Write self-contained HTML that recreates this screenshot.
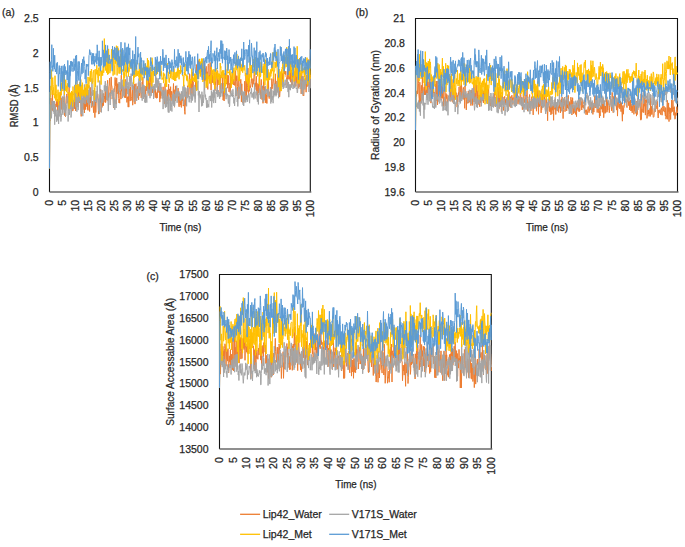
<!DOCTYPE html>
<html><head><meta charset="utf-8"><style>
html,body{margin:0;padding:0;background:#fff;}
svg{display:block;}
text{font-family:"Liberation Sans", sans-serif;fill:#262626;font-size:10.5px;stroke:#262626;stroke-width:0.25px;}
</style></head><body>
<svg width="685" height="547" viewBox="0 0 685 547">
<rect width="685" height="547" fill="#fff"/>
<path d="M49.5 192.0V18.5H310.3V192.0" fill="none" stroke="#111" stroke-width="1.1"/>
<path d="M49.5 192.0H311.3" stroke="#6a6a6a" stroke-width="1.6"/>
<polyline fill="none" stroke="#ED7D31" stroke-width="1.0" stroke-linejoin="round" points="49.5,168.4 49.8,104.4 50.2,120.7 50.5,117.7 50.8,98.0 51.1,100.8 51.5,103.6 51.8,110.2 52.1,98.9 52.4,90.5 52.8,110.7 53.1,101.5 53.4,106.2 53.7,101.2 54.1,104.5 54.4,104.3 54.7,109.2 55.0,103.9 55.4,109.4 55.7,106.6 56.0,105.7 56.4,101.2 56.7,106.8 57.0,103.1 57.3,99.1 57.7,111.0 58.0,111.0 58.3,103.6 58.6,106.4 59.0,106.6 59.3,101.2 59.6,113.1 59.9,102.1 60.3,92.1 60.6,95.9 60.9,109.2 61.3,98.1 61.6,109.4 61.9,104.3 62.2,101.6 62.6,112.6 62.9,96.7 63.2,105.9 63.5,101.5 63.9,102.3 64.2,96.8 64.5,97.4 64.8,115.8 65.2,104.1 65.5,116.7 65.8,104.6 66.1,98.4 66.5,95.5 66.8,93.9 67.1,103.3 67.5,100.7 67.8,100.3 68.1,92.5 68.4,92.8 68.8,106.2 69.1,82.0 69.4,102.7 69.7,106.8 70.1,102.2 70.4,100.2 70.7,102.1 71.0,109.2 71.4,93.1 71.7,105.5 72.0,94.6 72.3,92.8 72.7,111.1 73.0,110.5 73.3,108.9 73.7,99.9 74.0,99.4 74.3,98.7 74.6,108.8 75.0,100.4 75.3,94.4 75.6,110.9 75.9,102.8 76.3,102.8 76.6,107.2 76.9,105.4 77.2,90.5 77.6,94.8 77.9,97.4 78.2,107.1 78.6,85.9 78.9,96.7 79.2,102.6 79.5,101.3 79.9,102.9 80.2,83.5 80.5,100.8 80.8,101.8 81.2,116.4 81.5,99.5 81.8,110.5 82.1,111.8 82.5,98.1 82.8,108.0 83.1,95.1 83.4,90.7 83.8,109.6 84.1,100.4 84.4,113.0 84.8,99.2 85.1,93.0 85.4,109.6 85.7,88.0 86.1,102.5 86.4,106.6 86.7,99.5 87.0,93.5 87.4,109.4 87.7,99.2 88.0,110.4 88.3,91.7 88.7,95.8 89.0,102.8 89.3,97.7 89.6,111.5 90.0,100.3 90.3,87.4 90.6,102.9 91.0,91.6 91.3,100.8 91.6,107.5 91.9,104.7 92.3,101.1 92.6,104.9 92.9,106.8 93.2,106.6 93.6,112.7 93.9,102.3 94.2,101.8 94.5,98.8 94.9,117.6 95.2,101.5 95.5,103.4 95.8,112.5 96.2,102.0 96.5,95.8 96.8,98.3 97.2,97.0 97.5,94.4 97.8,94.0 98.1,102.3 98.5,114.1 98.8,106.2 99.1,100.4 99.4,107.2 99.8,99.7 100.1,95.2 100.4,102.3 100.7,89.3 101.1,112.1 101.4,98.6 101.7,105.6 102.1,107.4 102.4,98.8 102.7,105.7 103.0,93.8 103.4,105.6 103.7,93.5 104.0,99.0 104.3,96.1 104.7,97.2 105.0,102.3 105.3,90.0 105.6,102.6 106.0,100.3 106.3,90.8 106.6,88.2 106.9,91.1 107.3,95.1 107.6,80.3 107.9,100.7 108.3,96.5 108.6,97.8 108.9,86.8 109.2,85.1 109.6,78.2 109.9,81.7 110.2,91.3 110.5,95.0 110.9,99.1 111.2,76.9 111.5,85.7 111.8,85.5 112.2,89.7 112.5,93.9 112.8,94.3 113.1,96.7 113.5,107.8 113.8,91.2 114.1,91.8 114.5,89.0 114.8,85.6 115.1,77.5 115.4,85.8 115.8,79.9 116.1,104.0 116.4,94.4 116.7,77.9 117.1,94.0 117.4,89.7 117.7,83.7 118.0,93.3 118.4,83.9 118.7,98.7 119.0,102.9 119.4,99.0 119.7,103.2 120.0,92.7 120.3,94.6 120.7,90.5 121.0,99.1 121.3,75.2 121.6,91.0 122.0,91.1 122.3,87.7 122.6,93.4 122.9,96.6 123.3,93.8 123.6,86.6 123.9,90.0 124.2,88.9 124.6,97.6 124.9,97.7 125.2,79.3 125.6,97.8 125.9,91.3 126.2,88.4 126.5,86.0 126.9,102.4 127.2,97.3 127.5,98.6 127.8,96.7 128.2,107.1 128.5,94.0 128.8,107.1 129.1,89.6 129.5,88.8 129.8,90.9 130.1,101.1 130.4,86.8 130.8,97.8 131.1,100.5 131.4,98.5 131.8,96.8 132.1,91.1 132.4,85.0 132.7,105.2 133.1,96.1 133.4,85.8 133.7,89.3 134.0,87.4 134.4,102.2 134.7,84.1 135.0,104.1 135.3,93.7 135.7,85.1 136.0,83.6 136.3,91.9 136.7,88.8 137.0,96.3 137.3,96.8 137.6,86.4 138.0,92.9 138.3,98.0 138.6,99.7 138.9,90.4 139.3,88.1 139.6,95.7 139.9,93.6 140.2,82.8 140.6,90.4 140.9,91.5 141.2,97.9 141.5,94.7 141.9,91.1 142.2,81.8 142.5,93.9 142.9,77.2 143.2,96.6 143.5,95.2 143.8,87.1 144.2,95.6 144.5,97.0 144.8,91.7 145.1,86.0 145.5,100.1 145.8,89.7 146.1,90.3 146.4,90.8 146.8,79.7 147.1,89.4 147.4,89.4 147.7,87.1 148.1,83.4 148.4,91.1 148.7,79.0 149.1,95.7 149.4,78.1 149.7,92.6 150.0,87.4 150.4,82.2 150.7,71.8 151.0,77.0 151.3,87.4 151.7,77.9 152.0,88.9 152.3,93.0 152.6,87.4 153.0,89.6 153.3,86.8 153.6,93.7 154.0,87.4 154.3,87.0 154.6,90.9 154.9,93.3 155.3,97.7 155.6,89.0 155.9,95.1 156.2,92.6 156.6,98.3 156.9,93.8 157.2,98.0 157.5,91.1 157.9,86.2 158.2,92.6 158.5,86.8 158.8,90.1 159.2,83.3 159.5,89.8 159.8,102.1 160.2,89.9 160.5,95.1 160.8,98.5 161.1,91.6 161.5,94.3 161.8,92.8 162.1,95.9 162.4,92.9 162.8,93.8 163.1,86.8 163.4,97.9 163.7,94.5 164.1,95.1 164.4,103.9 164.7,102.6 165.0,83.4 165.4,102.7 165.7,90.7 166.0,99.0 166.4,97.9 166.7,104.2 167.0,98.5 167.3,89.8 167.7,100.8 168.0,92.0 168.3,93.4 168.6,84.2 169.0,94.9 169.3,88.9 169.6,90.1 169.9,94.8 170.3,98.7 170.6,86.7 170.9,101.2 171.3,95.4 171.6,91.2 171.9,91.9 172.2,100.6 172.6,95.3 172.9,97.6 173.2,90.0 173.5,83.5 173.9,102.7 174.2,89.7 174.5,107.2 174.8,94.8 175.2,101.0 175.5,85.9 175.8,93.6 176.1,97.7 176.5,98.0 176.8,97.7 177.1,93.1 177.5,95.5 177.8,92.1 178.1,88.1 178.4,95.2 178.8,105.0 179.1,106.8 179.4,103.7 179.7,93.0 180.1,102.5 180.4,105.0 180.7,101.2 181.0,106.3 181.4,107.4 181.7,97.6 182.0,100.5 182.3,100.8 182.7,95.0 183.0,101.8 183.3,106.1 183.7,103.5 184.0,99.5 184.3,102.8 184.6,111.4 185.0,114.3 185.3,97.1 185.6,90.6 185.9,105.5 186.3,96.0 186.6,99.1 186.9,91.8 187.2,93.7 187.6,85.7 187.9,90.3 188.2,97.0 188.5,94.5 188.9,89.2 189.2,88.1 189.5,73.7 189.9,75.0 190.2,94.6 190.5,80.7 190.8,91.7 191.2,94.3 191.5,78.9 191.8,78.7 192.1,89.5 192.5,72.3 192.8,93.0 193.1,94.8 193.4,82.1 193.8,81.9 194.1,81.1 194.4,78.1 194.8,74.8 195.1,78.3 195.4,78.0 195.7,89.5 196.1,80.9 196.4,64.6 196.7,76.5 197.0,67.6 197.4,64.1 197.7,78.7 198.0,74.6 198.3,60.7 198.7,67.6 199.0,59.4 199.3,59.5 199.6,62.5 200.0,70.1 200.3,73.2 200.6,75.0 201.0,65.2 201.3,65.9 201.6,71.7 201.9,65.5 202.3,77.6 202.6,65.2 202.9,72.9 203.2,76.1 203.6,76.3 203.9,80.6 204.2,60.9 204.5,90.0 204.9,76.7 205.2,68.4 205.5,71.3 205.8,80.6 206.2,66.3 206.5,85.9 206.8,85.8 207.2,71.7 207.5,81.6 207.8,89.4 208.1,64.6 208.5,63.8 208.8,65.4 209.1,76.9 209.4,75.2 209.8,83.5 210.1,62.4 210.4,69.2 210.7,69.7 211.1,90.1 211.4,70.0 211.7,69.9 212.1,71.5 212.4,74.5 212.7,82.8 213.0,80.7 213.4,77.1 213.7,80.7 214.0,83.9 214.3,85.0 214.7,72.8 215.0,90.7 215.3,81.5 215.6,84.8 216.0,76.3 216.3,74.6 216.6,72.3 216.9,78.1 217.3,94.2 217.6,70.5 217.9,79.2 218.3,82.8 218.6,80.4 218.9,84.9 219.2,77.9 219.6,77.8 219.9,85.5 220.2,97.1 220.5,76.4 220.9,75.1 221.2,75.2 221.5,77.5 221.8,77.0 222.2,77.3 222.5,89.3 222.8,77.7 223.1,100.1 223.5,94.2 223.8,91.2 224.1,101.0 224.5,92.5 224.8,75.0 225.1,73.1 225.4,78.9 225.8,69.4 226.1,77.3 226.4,84.1 226.7,78.8 227.1,81.7 227.4,75.0 227.7,88.2 228.0,75.9 228.4,84.7 228.7,75.4 229.0,91.9 229.4,86.6 229.7,85.2 230.0,83.0 230.3,93.4 230.7,74.8 231.0,80.6 231.3,86.3 231.6,76.9 232.0,83.2 232.3,78.7 232.6,70.8 232.9,78.1 233.3,84.2 233.6,85.0 233.9,79.5 234.2,81.7 234.6,85.4 234.9,84.7 235.2,80.7 235.6,70.6 235.9,96.1 236.2,76.3 236.5,80.7 236.9,75.6 237.2,78.9 237.5,86.7 237.8,94.8 238.2,96.9 238.5,98.8 238.8,79.6 239.1,88.4 239.5,88.5 239.8,87.5 240.1,94.8 240.4,83.7 240.8,79.3 241.1,84.8 241.4,101.8 241.8,83.8 242.1,100.8 242.4,102.6 242.7,102.6 243.1,102.5 243.4,98.3 243.7,102.6 244.0,102.6 244.4,95.7 244.7,81.2 245.0,98.8 245.3,92.4 245.7,92.5 246.0,73.1 246.3,99.4 246.7,80.7 247.0,91.6 247.3,87.6 247.6,85.3 248.0,68.1 248.3,92.5 248.6,95.3 248.9,78.6 249.3,91.4 249.6,90.2 249.9,88.3 250.2,85.7 250.6,87.6 250.9,83.5 251.2,81.6 251.5,78.0 251.9,83.1 252.2,84.1 252.5,87.2 252.9,78.6 253.2,84.3 253.5,79.9 253.8,80.7 254.2,68.8 254.5,75.3 254.8,73.1 255.1,86.6 255.5,83.4 255.8,82.8 256.1,89.7 256.4,76.3 256.8,91.1 257.1,83.4 257.4,100.0 257.7,90.4 258.1,85.4 258.4,84.3 258.7,93.2 259.1,81.4 259.4,74.1 259.7,78.0 260.0,89.2 260.4,92.0 260.7,98.4 261.0,87.2 261.3,79.4 261.7,91.4 262.0,99.7 262.3,89.0 262.6,86.2 263.0,103.3 263.3,90.4 263.6,79.3 264.0,88.0 264.3,87.0 264.6,91.4 264.9,86.6 265.3,102.8 265.6,100.6 265.9,92.8 266.2,102.8 266.6,95.0 266.9,103.5 267.2,86.1 267.5,82.7 267.9,87.8 268.2,90.7 268.5,79.4 268.8,97.5 269.2,98.6 269.5,97.5 269.8,91.9 270.2,96.4 270.5,87.2 270.8,93.2 271.1,96.8 271.5,98.8 271.8,78.6 272.1,88.8 272.4,86.3 272.8,83.7 273.1,81.3 273.4,77.2 273.7,79.2 274.1,85.0 274.4,91.7 274.7,94.8 275.0,93.1 275.4,73.8 275.7,87.0 276.0,94.7 276.4,85.4 276.7,86.3 277.0,81.0 277.3,91.8 277.7,82.4 278.0,83.5 278.3,77.9 278.6,77.6 279.0,75.2 279.3,84.4 279.6,96.9 279.9,93.3 280.3,89.1 280.6,79.7 280.9,83.2 281.2,80.4 281.6,84.9 281.9,75.8 282.2,73.8 282.6,82.2 282.9,73.0 283.2,72.7 283.5,79.7 283.9,71.1 284.2,65.3 284.5,73.8 284.8,71.0 285.2,74.1 285.5,74.5 285.8,71.2 286.1,77.0 286.5,77.5 286.8,82.4 287.1,85.4 287.5,79.6 287.8,68.9 288.1,79.4 288.4,75.7 288.8,61.8 289.1,67.7 289.4,79.0 289.7,69.9 290.1,80.5 290.4,64.0 290.7,82.2 291.0,77.8 291.4,70.0 291.7,85.4 292.0,72.8 292.3,84.6 292.7,76.1 293.0,77.2 293.3,75.6 293.7,76.5 294.0,78.6 294.3,86.9 294.6,73.0 295.0,71.4 295.3,67.0 295.6,67.5 295.9,86.5 296.3,68.3 296.6,71.0 296.9,82.6 297.2,71.4 297.6,69.4 297.9,83.4 298.2,88.4 298.5,82.9 298.9,62.9 299.2,78.1 299.5,87.1 299.9,77.2 300.2,84.2 300.5,83.6 300.8,78.1 301.2,93.9 301.5,75.8 301.8,71.4 302.1,81.9 302.5,86.2 302.8,76.3 303.1,95.7 303.4,95.1 303.8,95.8 304.1,90.1 304.4,82.4 304.8,85.4 305.1,79.0 305.4,77.9 305.7,81.3 306.1,92.2 306.4,85.7 306.7,75.1 307.0,86.8 307.4,83.6 307.7,84.8 308.0,82.7 308.3,85.7 308.7,84.0 309.0,59.5 309.3,72.6 309.6,87.0 310.0,79.8 310.3,74.9"/>
<polyline fill="none" stroke="#A5A5A5" stroke-width="1.0" stroke-linejoin="round" points="49.5,168.4 49.8,125.8 50.2,115.5 50.5,120.0 50.8,104.7 51.1,110.9 51.5,118.3 51.8,110.0 52.1,100.6 52.4,106.8 52.8,108.2 53.1,101.2 53.4,111.9 53.7,101.3 54.1,113.9 54.4,101.2 54.7,124.7 55.0,105.5 55.4,116.3 55.7,109.0 56.0,112.6 56.4,114.9 56.7,121.8 57.0,109.9 57.3,113.3 57.7,120.4 58.0,114.3 58.3,110.4 58.6,124.0 59.0,103.2 59.3,114.1 59.6,115.8 59.9,116.5 60.3,100.2 60.6,115.4 60.9,121.5 61.3,117.3 61.6,113.8 61.9,112.2 62.2,96.6 62.6,103.2 62.9,114.8 63.2,101.9 63.5,109.5 63.9,103.0 64.2,90.2 64.5,106.8 64.8,112.8 65.2,103.5 65.5,109.3 65.8,116.0 66.1,111.2 66.5,106.9 66.8,104.6 67.1,97.0 67.5,96.0 67.8,96.3 68.1,121.5 68.4,111.3 68.8,98.3 69.1,104.0 69.4,114.9 69.7,112.0 70.1,103.7 70.4,109.0 70.7,93.6 71.0,117.5 71.4,113.2 71.7,97.6 72.0,94.0 72.3,100.5 72.7,104.5 73.0,108.6 73.3,108.9 73.7,100.3 74.0,101.6 74.3,99.5 74.6,84.9 75.0,101.5 75.3,100.1 75.6,88.8 75.9,107.4 76.3,96.7 76.6,107.7 76.9,111.7 77.2,80.6 77.6,102.1 77.9,101.2 78.2,110.1 78.6,96.3 78.9,96.9 79.2,101.2 79.5,95.4 79.9,101.6 80.2,98.7 80.5,101.6 80.8,104.1 81.2,114.2 81.5,92.5 81.8,94.4 82.1,107.4 82.5,98.2 82.8,116.2 83.1,92.4 83.4,92.5 83.8,102.9 84.1,91.8 84.4,84.5 84.8,99.7 85.1,104.1 85.4,100.2 85.7,90.3 86.1,92.0 86.4,99.8 86.7,99.9 87.0,84.2 87.4,102.4 87.7,100.1 88.0,102.9 88.3,89.8 88.7,91.7 89.0,104.8 89.3,85.5 89.6,87.6 90.0,95.0 90.3,97.0 90.6,96.7 91.0,96.9 91.3,96.0 91.6,106.3 91.9,78.3 92.3,92.1 92.6,95.7 92.9,94.8 93.2,90.0 93.6,95.8 93.9,105.8 94.2,101.6 94.5,88.1 94.9,101.4 95.2,101.5 95.5,101.0 95.8,92.9 96.2,91.1 96.5,102.8 96.8,97.0 97.2,85.6 97.5,92.2 97.8,96.2 98.1,100.4 98.5,110.6 98.8,98.7 99.1,105.9 99.4,114.0 99.8,80.6 100.1,90.5 100.4,91.8 100.7,93.0 101.1,102.2 101.4,112.4 101.7,96.8 102.1,90.1 102.4,94.2 102.7,102.8 103.0,101.5 103.4,99.1 103.7,96.5 104.0,92.5 104.3,85.4 104.7,90.8 105.0,85.0 105.3,81.1 105.6,91.3 106.0,91.5 106.3,86.0 106.6,99.9 106.9,95.4 107.3,83.6 107.6,97.6 107.9,100.4 108.3,111.1 108.6,102.9 108.9,96.4 109.2,96.5 109.6,92.7 109.9,95.6 110.2,105.0 110.5,95.4 110.9,92.7 111.2,93.9 111.5,90.4 111.8,91.3 112.2,96.0 112.5,90.6 112.8,98.9 113.1,95.5 113.5,107.3 113.8,88.6 114.1,96.8 114.5,99.8 114.8,109.8 115.1,99.4 115.4,102.5 115.8,103.4 116.1,108.0 116.4,99.2 116.7,99.7 117.1,92.3 117.4,91.7 117.7,91.8 118.0,91.2 118.4,86.8 118.7,86.8 119.0,82.1 119.4,89.9 119.7,92.6 120.0,82.4 120.3,89.5 120.7,86.5 121.0,82.4 121.3,79.1 121.6,81.2 122.0,88.9 122.3,84.9 122.6,98.1 122.9,79.7 123.3,88.1 123.6,86.4 123.9,95.5 124.2,96.1 124.6,95.2 124.9,90.4 125.2,81.8 125.6,84.4 125.9,88.3 126.2,81.4 126.5,88.4 126.9,75.7 127.2,78.0 127.5,85.2 127.8,94.1 128.2,86.6 128.5,96.2 128.8,82.3 129.1,89.1 129.5,76.2 129.8,80.7 130.1,81.4 130.4,76.3 130.8,86.4 131.1,73.6 131.4,77.6 131.8,82.0 132.1,88.9 132.4,89.9 132.7,85.8 133.1,82.3 133.4,90.7 133.7,90.3 134.0,99.0 134.4,101.9 134.7,101.3 135.0,95.0 135.3,88.5 135.7,86.5 136.0,88.1 136.3,90.7 136.7,100.9 137.0,91.6 137.3,89.0 137.6,97.8 138.0,92.6 138.3,82.6 138.6,87.2 138.9,78.3 139.3,91.6 139.6,93.1 139.9,79.1 140.2,77.0 140.6,82.6 140.9,88.7 141.2,92.7 141.5,87.1 141.9,96.2 142.2,100.7 142.5,92.4 142.9,84.5 143.2,89.0 143.5,99.0 143.8,85.0 144.2,86.1 144.5,88.3 144.8,102.4 145.1,99.5 145.5,102.7 145.8,94.3 146.1,96.7 146.4,96.0 146.8,102.6 147.1,94.4 147.4,91.1 147.7,84.7 148.1,88.7 148.4,92.8 148.7,89.5 149.1,93.5 149.4,89.7 149.7,92.9 150.0,98.2 150.4,88.5 150.7,85.6 151.0,96.1 151.3,95.2 151.7,81.6 152.0,85.3 152.3,86.7 152.6,89.1 153.0,88.2 153.3,85.9 153.6,99.0 154.0,86.0 154.3,84.0 154.6,90.6 154.9,90.1 155.3,90.2 155.6,74.6 155.9,76.6 156.2,87.4 156.6,77.8 156.9,79.5 157.2,87.8 157.5,79.9 157.9,90.5 158.2,78.2 158.5,84.2 158.8,81.1 159.2,83.8 159.5,90.7 159.8,85.4 160.2,91.2 160.5,88.9 160.8,83.0 161.1,87.9 161.5,87.3 161.8,95.1 162.1,96.5 162.4,98.6 162.8,90.2 163.1,109.1 163.4,94.2 163.7,91.5 164.1,90.6 164.4,91.4 164.7,102.4 165.0,105.0 165.4,107.7 165.7,89.1 166.0,95.7 166.4,106.4 166.7,107.1 167.0,96.3 167.3,103.7 167.7,101.7 168.0,110.4 168.3,112.4 168.6,94.5 169.0,112.6 169.3,101.8 169.6,98.4 169.9,97.4 170.3,97.9 170.6,110.6 170.9,100.7 171.3,102.9 171.6,107.3 171.9,111.5 172.2,103.2 172.6,94.6 172.9,104.0 173.2,104.4 173.5,92.8 173.9,106.0 174.2,94.3 174.5,106.7 174.8,104.6 175.2,98.1 175.5,92.6 175.8,91.6 176.1,96.1 176.5,87.1 176.8,85.6 177.1,102.8 177.5,91.8 177.8,96.7 178.1,91.5 178.4,93.6 178.8,94.3 179.1,91.5 179.4,94.9 179.7,96.2 180.1,100.1 180.4,101.0 180.7,94.0 181.0,98.3 181.4,91.4 181.7,99.5 182.0,91.7 182.3,98.4 182.7,90.9 183.0,86.4 183.3,98.5 183.7,104.8 184.0,84.8 184.3,93.7 184.6,96.5 185.0,87.3 185.3,96.9 185.6,95.4 185.9,88.3 186.3,96.1 186.6,106.3 186.9,95.1 187.2,98.1 187.6,93.0 187.9,87.1 188.2,94.2 188.5,95.2 188.9,98.8 189.2,102.3 189.5,96.3 189.9,98.8 190.2,94.9 190.5,92.8 190.8,87.9 191.2,102.7 191.5,93.5 191.8,99.1 192.1,94.1 192.5,100.5 192.8,96.9 193.1,87.1 193.4,92.3 193.8,96.3 194.1,84.9 194.4,93.9 194.8,99.0 195.1,102.5 195.4,99.3 195.7,87.8 196.1,87.1 196.4,90.3 196.7,81.9 197.0,88.8 197.4,90.0 197.7,84.1 198.0,80.6 198.3,95.4 198.7,92.5 199.0,112.0 199.3,91.0 199.6,94.1 200.0,97.7 200.3,94.5 200.6,95.8 201.0,99.7 201.3,99.8 201.6,106.3 201.9,91.7 202.3,98.5 202.6,105.6 202.9,94.9 203.2,103.0 203.6,100.8 203.9,96.7 204.2,80.7 204.5,85.3 204.9,94.1 205.2,97.3 205.5,94.7 205.8,99.4 206.2,98.2 206.5,107.7 206.8,105.0 207.2,100.2 207.5,107.3 207.8,107.5 208.1,103.9 208.5,106.2 208.8,107.2 209.1,97.8 209.4,96.3 209.8,95.9 210.1,97.0 210.4,101.1 210.7,95.8 211.1,100.9 211.4,90.6 211.7,107.5 212.1,92.3 212.4,97.5 212.7,94.1 213.0,101.3 213.4,89.9 213.7,103.1 214.0,93.2 214.3,97.6 214.7,87.6 215.0,99.4 215.3,100.5 215.6,102.9 216.0,92.2 216.3,93.5 216.6,90.3 216.9,94.0 217.3,86.6 217.6,95.7 217.9,97.1 218.3,90.0 218.6,93.7 218.9,95.8 219.2,92.0 219.6,98.8 219.9,92.7 220.2,97.0 220.5,89.5 220.9,90.9 221.2,83.1 221.5,93.2 221.8,91.9 222.2,96.5 222.5,91.0 222.8,88.7 223.1,88.6 223.5,83.1 223.8,91.1 224.1,87.7 224.5,90.5 224.8,85.9 225.1,95.1 225.4,88.0 225.8,92.3 226.1,99.2 226.4,87.6 226.7,96.4 227.1,93.7 227.4,95.1 227.7,94.6 228.0,99.5 228.4,103.5 228.7,100.7 229.0,94.9 229.4,107.0 229.7,105.8 230.0,95.7 230.3,96.5 230.7,95.9 231.0,90.5 231.3,95.7 231.6,96.0 232.0,93.2 232.3,97.1 232.6,93.7 232.9,89.3 233.3,94.4 233.6,96.4 233.9,103.4 234.2,98.1 234.6,106.0 234.9,100.2 235.2,97.0 235.6,87.2 235.9,94.3 236.2,88.3 236.5,95.6 236.9,91.2 237.2,102.0 237.5,97.2 237.8,106.4 238.2,96.5 238.5,92.6 238.8,86.9 239.1,95.1 239.5,98.4 239.8,91.5 240.1,88.3 240.4,83.8 240.8,87.6 241.1,95.5 241.4,93.6 241.8,91.6 242.1,90.7 242.4,92.8 242.7,96.7 243.1,104.8 243.4,91.7 243.7,106.0 244.0,99.3 244.4,92.3 244.7,91.0 245.0,101.5 245.3,96.0 245.7,102.4 246.0,96.8 246.3,97.5 246.7,99.4 247.0,95.1 247.3,101.8 247.6,96.0 248.0,97.4 248.3,94.3 248.6,93.5 248.9,94.6 249.3,100.8 249.6,103.2 249.9,96.0 250.2,93.4 250.6,92.1 250.9,93.8 251.2,90.6 251.5,88.4 251.9,97.4 252.2,96.7 252.5,93.6 252.9,93.7 253.2,97.9 253.5,91.9 253.8,99.3 254.2,97.6 254.5,83.3 254.8,89.4 255.1,97.9 255.5,98.0 255.8,98.3 256.1,91.8 256.4,95.2 256.8,90.9 257.1,93.8 257.4,101.7 257.7,97.7 258.1,94.8 258.4,104.4 258.7,93.6 259.1,94.7 259.4,88.5 259.7,90.4 260.0,93.2 260.4,98.5 260.7,98.7 261.0,95.7 261.3,92.7 261.7,85.0 262.0,87.6 262.3,97.8 262.6,89.6 263.0,101.9 263.3,101.9 263.6,93.0 264.0,90.4 264.3,100.3 264.6,91.4 264.9,94.1 265.3,86.0 265.6,93.9 265.9,93.1 266.2,91.5 266.6,89.7 266.9,89.1 267.2,92.7 267.5,90.2 267.9,96.8 268.2,88.7 268.5,95.6 268.8,91.4 269.2,94.9 269.5,94.8 269.8,96.0 270.2,96.6 270.5,87.2 270.8,103.5 271.1,89.2 271.5,101.7 271.8,90.3 272.1,99.9 272.4,96.3 272.8,96.3 273.1,103.2 273.4,90.9 273.7,97.3 274.1,94.7 274.4,83.6 274.7,95.3 275.0,89.3 275.4,94.7 275.7,83.9 276.0,96.3 276.4,88.1 276.7,94.8 277.0,86.9 277.3,81.3 277.7,77.4 278.0,93.1 278.3,81.5 278.6,98.2 279.0,89.1 279.3,80.9 279.6,85.4 279.9,85.3 280.3,89.9 280.6,83.3 280.9,79.4 281.2,75.6 281.6,85.2 281.9,83.4 282.2,80.4 282.6,86.8 282.9,79.3 283.2,88.9 283.5,79.2 283.9,87.8 284.2,86.1 284.5,85.1 284.8,83.0 285.2,79.7 285.5,85.1 285.8,85.9 286.1,88.0 286.5,85.7 286.8,87.6 287.1,79.0 287.5,83.4 287.8,88.0 288.1,92.1 288.4,81.9 288.8,97.2 289.1,84.3 289.4,85.3 289.7,89.5 290.1,84.3 290.4,90.2 290.7,84.7 291.0,87.1 291.4,87.7 291.7,85.2 292.0,77.0 292.3,79.1 292.7,80.4 293.0,89.0 293.3,84.6 293.7,87.2 294.0,85.7 294.3,88.1 294.6,84.2 295.0,81.0 295.3,84.6 295.6,81.6 295.9,86.9 296.3,88.9 296.6,88.0 296.9,88.2 297.2,93.0 297.6,92.4 297.9,84.0 298.2,82.0 298.5,72.3 298.9,78.7 299.2,79.3 299.5,82.8 299.9,79.7 300.2,89.0 300.5,83.3 300.8,73.2 301.2,80.8 301.5,80.7 301.8,84.1 302.1,94.0 302.5,81.7 302.8,94.5 303.1,76.2 303.4,89.9 303.8,78.9 304.1,85.0 304.4,79.4 304.8,89.0 305.1,89.4 305.4,80.2 305.7,81.7 306.1,81.6 306.4,79.9 306.7,84.2 307.0,75.2 307.4,82.4 307.7,84.2 308.0,80.7 308.3,82.7 308.7,84.0 309.0,92.0 309.3,76.6 309.6,87.9 310.0,77.2 310.3,88.3"/>
<polyline fill="none" stroke="#FFC000" stroke-width="1.0" stroke-linejoin="round" points="49.5,168.4 49.8,92.1 50.2,97.6 50.5,93.9 50.8,85.9 51.1,90.3 51.5,69.7 51.8,80.2 52.1,94.7 52.4,79.5 52.8,77.6 53.1,84.6 53.4,86.7 53.7,94.8 54.1,93.7 54.4,97.4 54.7,98.3 55.0,75.7 55.4,90.7 55.7,100.5 56.0,84.8 56.4,93.6 56.7,100.4 57.0,101.5 57.3,95.2 57.7,95.2 58.0,89.7 58.3,99.1 58.6,105.2 59.0,92.3 59.3,100.5 59.6,95.4 59.9,100.0 60.3,91.6 60.6,88.8 60.9,83.5 61.3,95.4 61.6,82.9 61.9,82.3 62.2,84.4 62.6,86.3 62.9,91.1 63.2,81.0 63.5,78.8 63.9,72.5 64.2,72.5 64.5,94.8 64.8,79.2 65.2,86.3 65.5,90.7 65.8,80.0 66.1,88.7 66.5,92.2 66.8,85.8 67.1,88.3 67.5,83.4 67.8,93.3 68.1,92.4 68.4,92.6 68.8,92.3 69.1,108.7 69.4,92.2 69.7,101.5 70.1,93.9 70.4,104.4 70.7,92.6 71.0,102.1 71.4,99.1 71.7,91.0 72.0,96.2 72.3,92.0 72.7,106.6 73.0,86.5 73.3,94.7 73.7,93.9 74.0,99.0 74.3,98.5 74.6,101.8 75.0,89.8 75.3,92.8 75.6,81.7 75.9,89.4 76.3,85.1 76.6,93.6 76.9,85.5 77.2,97.2 77.6,92.8 77.9,84.2 78.2,88.4 78.6,92.3 78.9,84.4 79.2,89.8 79.5,96.8 79.9,82.2 80.2,91.0 80.5,100.0 80.8,79.5 81.2,94.3 81.5,92.0 81.8,84.8 82.1,96.3 82.5,82.7 82.8,90.9 83.1,94.9 83.4,89.8 83.8,95.6 84.1,91.3 84.4,94.6 84.8,86.8 85.1,96.2 85.4,96.9 85.7,90.7 86.1,84.1 86.4,93.1 86.7,93.4 87.0,95.1 87.4,84.4 87.7,95.4 88.0,76.9 88.3,84.4 88.7,88.4 89.0,86.9 89.3,77.5 89.6,81.1 90.0,76.3 90.3,71.0 90.6,81.8 91.0,80.5 91.3,69.5 91.6,69.0 91.9,75.0 92.3,83.5 92.6,81.9 92.9,82.1 93.2,72.0 93.6,72.1 93.9,70.1 94.2,98.7 94.5,99.9 94.9,92.8 95.2,69.2 95.5,86.9 95.8,76.0 96.2,72.6 96.5,73.7 96.8,65.2 97.2,74.6 97.5,70.1 97.8,78.6 98.1,82.4 98.5,79.9 98.8,67.6 99.1,75.8 99.4,75.8 99.8,73.4 100.1,60.1 100.4,70.5 100.7,71.5 101.1,84.6 101.4,70.7 101.7,75.7 102.1,71.4 102.4,70.7 102.7,75.6 103.0,65.6 103.4,65.8 103.7,72.8 104.0,69.8 104.3,38.6 104.7,58.1 105.0,65.2 105.3,62.3 105.6,70.5 106.0,56.2 106.3,67.3 106.6,72.7 106.9,68.1 107.3,53.1 107.6,74.6 107.9,56.7 108.3,74.1 108.6,48.9 108.9,59.1 109.2,60.9 109.6,64.5 109.9,73.2 110.2,61.7 110.5,71.2 110.9,64.8 111.2,59.7 111.5,49.2 111.8,50.1 112.2,59.7 112.5,60.9 112.8,54.4 113.1,75.6 113.5,52.3 113.8,53.2 114.1,64.3 114.5,65.8 114.8,74.6 115.1,60.3 115.4,63.6 115.8,57.3 116.1,60.9 116.4,45.7 116.7,61.7 117.1,75.4 117.4,67.3 117.7,46.4 118.0,65.2 118.4,48.5 118.7,65.7 119.0,73.6 119.4,60.0 119.7,69.7 120.0,73.6 120.3,63.4 120.7,53.9 121.0,71.5 121.3,49.5 121.6,69.4 122.0,71.9 122.3,71.0 122.6,69.7 122.9,69.3 123.3,71.4 123.6,75.1 123.9,86.3 124.2,72.7 124.6,78.1 124.9,54.5 125.2,64.7 125.6,72.2 125.9,72.7 126.2,76.4 126.5,71.9 126.9,62.1 127.2,72.7 127.5,64.9 127.8,58.5 128.2,71.3 128.5,76.5 128.8,67.5 129.1,71.6 129.5,61.1 129.8,66.8 130.1,60.5 130.4,64.1 130.8,68.7 131.1,62.4 131.4,68.4 131.8,69.1 132.1,68.7 132.4,69.8 132.7,75.3 133.1,70.8 133.4,72.9 133.7,84.1 134.0,72.3 134.4,77.6 134.7,55.9 135.0,77.0 135.3,72.6 135.7,62.5 136.0,75.1 136.3,76.3 136.7,69.4 137.0,71.3 137.3,76.0 137.6,72.5 138.0,70.9 138.3,73.9 138.6,71.4 138.9,77.5 139.3,62.9 139.6,80.6 139.9,71.2 140.2,66.5 140.6,77.2 140.9,70.0 141.2,63.3 141.5,67.2 141.9,80.5 142.2,67.8 142.5,69.5 142.9,69.9 143.2,68.8 143.5,67.6 143.8,75.3 144.2,74.5 144.5,68.6 144.8,70.5 145.1,75.1 145.5,63.5 145.8,74.2 146.1,65.8 146.4,75.5 146.8,79.2 147.1,86.6 147.4,58.2 147.7,61.2 148.1,71.3 148.4,60.3 148.7,60.9 149.1,69.0 149.4,77.9 149.7,82.7 150.0,74.9 150.4,66.9 150.7,74.4 151.0,75.0 151.3,72.6 151.7,86.4 152.0,57.7 152.3,60.1 152.6,71.1 153.0,82.6 153.3,73.1 153.6,70.8 154.0,75.3 154.3,73.1 154.6,74.0 154.9,75.7 155.3,72.9 155.6,65.6 155.9,71.7 156.2,68.9 156.6,75.1 156.9,67.1 157.2,70.2 157.5,73.7 157.9,62.5 158.2,64.6 158.5,68.6 158.8,70.1 159.2,62.1 159.5,75.1 159.8,75.8 160.2,68.6 160.5,75.4 160.8,65.4 161.1,75.6 161.5,71.5 161.8,77.7 162.1,79.7 162.4,78.1 162.8,77.9 163.1,78.9 163.4,72.6 163.7,83.1 164.1,76.8 164.4,74.5 164.7,73.7 165.0,76.1 165.4,76.5 165.7,87.0 166.0,78.2 166.4,81.6 166.7,86.9 167.0,67.3 167.3,63.2 167.7,69.7 168.0,72.3 168.3,72.0 168.6,76.1 169.0,82.0 169.3,82.7 169.6,78.0 169.9,77.9 170.3,70.3 170.6,78.1 170.9,76.7 171.3,72.1 171.6,66.4 171.9,78.9 172.2,79.3 172.6,77.3 172.9,75.7 173.2,71.5 173.5,79.8 173.9,69.1 174.2,68.8 174.5,80.8 174.8,77.6 175.2,72.3 175.5,77.9 175.8,80.9 176.1,74.6 176.5,71.8 176.8,78.0 177.1,74.0 177.5,68.2 177.8,76.6 178.1,67.2 178.4,68.5 178.8,76.0 179.1,79.3 179.4,71.6 179.7,70.0 180.1,74.1 180.4,73.9 180.7,65.5 181.0,72.5 181.4,71.3 181.7,70.2 182.0,70.8 182.3,72.0 182.7,76.1 183.0,75.5 183.3,76.5 183.7,86.3 184.0,77.9 184.3,72.1 184.6,75.0 185.0,64.0 185.3,72.6 185.6,75.5 185.9,75.0 186.3,75.8 186.6,80.2 186.9,74.5 187.2,81.2 187.6,76.0 187.9,79.8 188.2,85.0 188.5,86.6 188.9,85.3 189.2,80.4 189.5,79.0 189.9,87.9 190.2,82.0 190.5,82.9 190.8,78.9 191.2,83.7 191.5,79.3 191.8,68.5 192.1,77.3 192.5,80.3 192.8,80.5 193.1,79.2 193.4,77.8 193.8,80.9 194.1,77.0 194.4,73.7 194.8,81.8 195.1,75.1 195.4,82.2 195.7,73.6 196.1,73.3 196.4,71.4 196.7,90.7 197.0,72.7 197.4,73.9 197.7,71.0 198.0,69.0 198.3,68.3 198.7,79.1 199.0,64.1 199.3,73.4 199.6,58.9 200.0,64.2 200.3,76.6 200.6,61.8 201.0,61.4 201.3,64.9 201.6,58.6 201.9,63.5 202.3,58.6 202.6,67.8 202.9,82.0 203.2,66.8 203.6,75.5 203.9,70.9 204.2,71.6 204.5,78.7 204.9,78.2 205.2,74.7 205.5,77.3 205.8,73.8 206.2,87.8 206.5,79.7 206.8,84.3 207.2,73.6 207.5,86.2 207.8,83.1 208.1,75.6 208.5,76.1 208.8,79.1 209.1,76.5 209.4,80.5 209.8,82.5 210.1,76.9 210.4,75.0 210.7,83.7 211.1,82.8 211.4,63.0 211.7,79.7 212.1,70.8 212.4,71.1 212.7,72.0 213.0,69.6 213.4,75.4 213.7,83.2 214.0,69.2 214.3,80.4 214.7,88.9 215.0,69.9 215.3,81.4 215.6,78.7 216.0,68.1 216.3,74.4 216.6,76.3 216.9,76.2 217.3,78.6 217.6,71.5 217.9,79.6 218.3,74.6 218.6,77.1 218.9,73.3 219.2,84.8 219.6,74.1 219.9,84.5 220.2,63.0 220.5,68.2 220.9,66.4 221.2,75.3 221.5,78.1 221.8,71.7 222.2,76.8 222.5,70.4 222.8,73.4 223.1,78.2 223.5,73.8 223.8,70.2 224.1,77.0 224.5,93.0 224.8,81.8 225.1,79.4 225.4,86.2 225.8,85.0 226.1,74.1 226.4,82.9 226.7,79.8 227.1,70.6 227.4,64.2 227.7,73.0 228.0,72.9 228.4,73.0 228.7,71.9 229.0,73.1 229.4,70.8 229.7,75.2 230.0,69.4 230.3,72.9 230.7,76.8 231.0,84.3 231.3,87.9 231.6,80.5 232.0,71.9 232.3,76.8 232.6,84.2 232.9,78.6 233.3,70.7 233.6,72.1 233.9,67.7 234.2,80.8 234.6,78.1 234.9,71.4 235.2,68.0 235.6,64.3 235.9,62.1 236.2,70.3 236.5,65.6 236.9,54.2 237.2,64.9 237.5,65.7 237.8,72.2 238.2,76.4 238.5,80.2 238.8,80.7 239.1,65.9 239.5,81.1 239.8,75.0 240.1,74.6 240.4,57.9 240.8,68.5 241.1,66.9 241.4,71.2 241.8,64.5 242.1,66.2 242.4,63.4 242.7,72.7 243.1,62.1 243.4,64.0 243.7,67.7 244.0,70.5 244.4,67.4 244.7,65.3 245.0,69.0 245.3,76.1 245.7,74.6 246.0,73.5 246.3,81.3 246.7,75.9 247.0,79.8 247.3,83.5 247.6,71.4 248.0,79.9 248.3,85.5 248.6,90.0 248.9,82.6 249.3,74.0 249.6,82.3 249.9,57.2 250.2,66.4 250.6,71.3 250.9,77.5 251.2,65.0 251.5,79.0 251.9,66.7 252.2,70.7 252.5,64.0 252.9,63.7 253.2,59.1 253.5,65.3 253.8,67.3 254.2,64.9 254.5,64.5 254.8,75.0 255.1,66.7 255.5,57.3 255.8,64.0 256.1,66.1 256.4,74.0 256.8,69.4 257.1,74.8 257.4,72.2 257.7,76.3 258.1,64.2 258.4,58.2 258.7,63.9 259.1,61.7 259.4,85.5 259.7,65.1 260.0,66.7 260.4,77.1 260.7,76.0 261.0,62.1 261.3,67.5 261.7,63.8 262.0,67.2 262.3,68.5 262.6,72.8 263.0,71.5 263.3,66.3 263.6,81.5 264.0,63.6 264.3,74.8 264.6,58.9 264.9,85.4 265.3,67.9 265.6,59.9 265.9,61.1 266.2,80.4 266.6,66.3 266.9,71.7 267.2,74.4 267.5,89.0 267.9,73.1 268.2,69.3 268.5,80.6 268.8,72.4 269.2,72.5 269.5,75.9 269.8,80.1 270.2,72.7 270.5,69.5 270.8,76.5 271.1,70.4 271.5,73.4 271.8,61.6 272.1,65.3 272.4,71.2 272.8,54.8 273.1,52.2 273.4,78.0 273.7,79.1 274.1,70.4 274.4,71.4 274.7,70.4 275.0,61.8 275.4,67.6 275.7,62.5 276.0,67.4 276.4,65.1 276.7,51.9 277.0,66.6 277.3,74.1 277.7,80.2 278.0,77.8 278.3,87.1 278.6,86.1 279.0,69.0 279.3,71.8 279.6,78.5 279.9,90.7 280.3,71.5 280.6,72.7 280.9,84.4 281.2,91.1 281.6,69.6 281.9,73.1 282.2,67.1 282.6,68.7 282.9,59.8 283.2,75.6 283.5,81.7 283.9,71.6 284.2,61.4 284.5,55.4 284.8,68.6 285.2,61.9 285.5,57.3 285.8,58.8 286.1,67.1 286.5,55.7 286.8,47.2 287.1,66.2 287.5,64.3 287.8,56.6 288.1,56.4 288.4,64.5 288.8,57.8 289.1,48.0 289.4,76.4 289.7,61.7 290.1,72.9 290.4,66.5 290.7,61.0 291.0,61.8 291.4,75.3 291.7,79.3 292.0,66.0 292.3,63.3 292.7,67.3 293.0,70.3 293.3,65.1 293.7,67.0 294.0,81.6 294.3,71.4 294.6,78.3 295.0,71.9 295.3,65.2 295.6,61.3 295.9,75.3 296.3,76.6 296.6,76.3 296.9,61.9 297.2,46.3 297.6,73.8 297.9,83.6 298.2,59.6 298.5,71.7 298.9,63.0 299.2,83.5 299.5,58.0 299.9,73.4 300.2,78.2 300.5,78.8 300.8,70.2 301.2,70.7 301.5,75.7 301.8,63.2 302.1,71.3 302.5,71.3 302.8,73.2 303.1,68.3 303.4,72.1 303.8,71.2 304.1,75.5 304.4,77.0 304.8,66.9 305.1,80.1 305.4,67.2 305.7,70.8 306.1,71.0 306.4,68.1 306.7,66.4 307.0,57.6 307.4,74.1 307.7,84.9 308.0,59.6 308.3,74.7 308.7,75.7 309.0,62.3 309.3,81.6 309.6,60.3 310.0,70.1 310.3,78.8"/>
<polyline fill="none" stroke="#5B9BD5" stroke-width="1.0" stroke-linejoin="round" points="49.5,168.4 49.8,72.8 50.2,61.7 50.5,78.8 50.8,76.0 51.1,65.1 51.5,59.7 51.8,44.7 52.1,67.6 52.4,65.7 52.8,71.3 53.1,68.1 53.4,48.3 53.7,66.8 54.1,56.8 54.4,69.1 54.7,55.2 55.0,67.8 55.4,71.9 55.7,69.5 56.0,71.1 56.4,63.4 56.7,74.1 57.0,70.7 57.3,62.2 57.7,66.7 58.0,70.0 58.3,86.3 58.6,74.2 59.0,74.3 59.3,65.6 59.6,74.0 59.9,68.0 60.3,85.8 60.6,90.7 60.9,76.2 61.3,65.9 61.6,74.2 61.9,82.0 62.2,71.3 62.6,88.6 62.9,66.2 63.2,65.6 63.5,73.0 63.9,79.9 64.2,90.3 64.5,64.1 64.8,72.8 65.2,66.5 65.5,69.7 65.8,74.9 66.1,72.2 66.5,73.5 66.8,70.5 67.1,80.0 67.5,74.1 67.8,60.4 68.1,80.8 68.4,86.8 68.8,72.1 69.1,71.4 69.4,65.4 69.7,87.6 70.1,75.8 70.4,75.9 70.7,61.2 71.0,71.4 71.4,61.3 71.7,64.0 72.0,66.2 72.3,61.8 72.7,67.5 73.0,71.7 73.3,68.1 73.7,68.2 74.0,58.7 74.3,70.6 74.6,68.0 75.0,64.0 75.3,66.8 75.6,55.8 75.9,84.6 76.3,56.0 76.6,55.1 76.9,81.3 77.2,76.7 77.6,70.7 77.9,64.2 78.2,61.5 78.6,77.2 78.9,80.5 79.2,61.5 79.5,65.3 79.9,70.7 80.2,86.3 80.5,76.6 80.8,76.8 81.2,71.6 81.5,63.2 81.8,73.5 82.1,74.1 82.5,59.4 82.8,61.9 83.1,72.8 83.4,58.9 83.8,56.7 84.1,62.9 84.4,60.8 84.8,66.6 85.1,79.1 85.4,73.7 85.7,69.8 86.1,83.6 86.4,64.0 86.7,66.9 87.0,64.7 87.4,64.9 87.7,66.1 88.0,64.1 88.3,75.6 88.7,67.6 89.0,55.6 89.3,54.8 89.6,49.6 90.0,50.9 90.3,55.0 90.6,53.6 91.0,52.5 91.3,57.3 91.6,64.3 91.9,56.4 92.3,61.0 92.6,53.3 92.9,64.4 93.2,62.4 93.6,53.4 93.9,63.7 94.2,60.1 94.5,66.1 94.9,56.1 95.2,58.4 95.5,59.8 95.8,62.3 96.2,53.5 96.5,57.1 96.8,64.4 97.2,44.8 97.5,50.8 97.8,60.5 98.1,57.2 98.5,58.8 98.8,66.4 99.1,50.8 99.4,60.1 99.8,66.2 100.1,57.1 100.4,70.5 100.7,71.3 101.1,57.6 101.4,57.1 101.7,65.4 102.1,62.1 102.4,40.8 102.7,51.5 103.0,57.4 103.4,49.9 103.7,67.4 104.0,54.5 104.3,66.3 104.7,60.2 105.0,53.1 105.3,65.6 105.6,44.9 106.0,62.0 106.3,50.6 106.6,51.1 106.9,57.8 107.3,55.8 107.6,45.5 107.9,63.1 108.3,62.8 108.6,63.4 108.9,58.5 109.2,54.9 109.6,60.1 109.9,59.7 110.2,63.7 110.5,61.8 110.9,60.1 111.2,59.1 111.5,59.9 111.8,62.7 112.2,71.2 112.5,46.0 112.8,54.8 113.1,57.9 113.5,49.9 113.8,53.1 114.1,54.4 114.5,46.9 114.8,59.7 115.1,47.8 115.4,57.6 115.8,59.4 116.1,53.2 116.4,61.3 116.7,49.2 117.1,47.6 117.4,51.1 117.7,57.3 118.0,65.2 118.4,55.2 118.7,50.6 119.0,67.2 119.4,56.5 119.7,60.4 120.0,67.1 120.3,49.8 120.7,52.0 121.0,42.2 121.3,63.3 121.6,75.0 122.0,52.2 122.3,65.6 122.6,48.1 122.9,50.3 123.3,50.2 123.6,71.2 123.9,60.1 124.2,56.0 124.6,65.2 124.9,42.6 125.2,57.7 125.6,52.7 125.9,62.2 126.2,47.7 126.5,60.9 126.9,64.4 127.2,46.9 127.5,71.7 127.8,54.9 128.2,53.9 128.5,43.8 128.8,63.5 129.1,52.7 129.5,54.9 129.8,47.9 130.1,59.3 130.4,66.4 130.8,61.9 131.1,68.3 131.4,59.3 131.8,65.4 132.1,63.2 132.4,75.7 132.7,50.6 133.1,63.7 133.4,59.3 133.7,61.6 134.0,74.6 134.4,54.2 134.7,69.3 135.0,70.5 135.3,59.1 135.7,36.5 136.0,66.8 136.3,64.7 136.7,69.4 137.0,59.9 137.3,64.3 137.6,54.1 138.0,47.1 138.3,57.1 138.6,56.9 138.9,53.6 139.3,64.8 139.6,69.0 139.9,66.0 140.2,62.4 140.6,52.1 140.9,73.5 141.2,57.7 141.5,62.3 141.9,60.2 142.2,74.6 142.5,70.7 142.9,69.3 143.2,68.2 143.5,66.9 143.8,60.5 144.2,78.2 144.5,67.2 144.8,69.3 145.1,63.5 145.5,71.1 145.8,69.8 146.1,69.4 146.4,67.4 146.8,78.6 147.1,80.3 147.4,73.2 147.7,67.5 148.1,80.5 148.4,70.4 148.7,74.1 149.1,68.3 149.4,74.7 149.7,76.9 150.0,66.9 150.4,66.2 150.7,57.5 151.0,63.7 151.3,61.7 151.7,64.9 152.0,71.3 152.3,65.6 152.6,64.8 153.0,68.4 153.3,68.8 153.6,69.7 154.0,68.1 154.3,66.9 154.6,68.1 154.9,76.1 155.3,57.2 155.6,61.3 155.9,65.1 156.2,59.7 156.6,74.0 156.9,59.1 157.2,56.6 157.5,58.1 157.9,71.9 158.2,71.4 158.5,61.8 158.8,65.8 159.2,71.8 159.5,61.6 159.8,79.2 160.2,74.1 160.5,56.2 160.8,62.2 161.1,64.7 161.5,61.3 161.8,63.5 162.1,64.7 162.4,63.1 162.8,49.3 163.1,51.6 163.4,71.1 163.7,58.3 164.1,57.8 164.4,66.1 164.7,57.9 165.0,67.9 165.4,63.4 165.7,64.5 166.0,54.9 166.4,63.4 166.7,79.0 167.0,65.4 167.3,72.3 167.7,65.4 168.0,69.3 168.3,64.3 168.6,58.0 169.0,64.0 169.3,61.5 169.6,73.8 169.9,61.7 170.3,66.4 170.6,67.8 170.9,63.2 171.3,65.3 171.6,71.3 171.9,59.7 172.2,64.2 172.6,62.5 172.9,68.2 173.2,71.8 173.5,66.2 173.9,68.6 174.2,66.0 174.5,49.3 174.8,64.0 175.2,60.1 175.5,65.5 175.8,67.5 176.1,64.1 176.5,66.0 176.8,56.6 177.1,62.0 177.5,62.8 177.8,68.2 178.1,49.3 178.4,65.9 178.8,66.8 179.1,53.6 179.4,53.2 179.7,61.2 180.1,63.1 180.4,61.1 180.7,55.9 181.0,55.7 181.4,65.0 181.7,58.5 182.0,66.2 182.3,74.7 182.7,72.2 183.0,65.0 183.3,57.5 183.7,67.0 184.0,62.5 184.3,66.3 184.6,66.3 185.0,63.1 185.3,62.3 185.6,59.9 185.9,51.4 186.3,66.2 186.6,71.0 186.9,61.6 187.2,71.3 187.6,57.4 187.9,66.7 188.2,74.3 188.5,58.0 188.9,51.2 189.2,65.5 189.5,54.5 189.9,62.5 190.2,68.1 190.5,54.8 190.8,68.6 191.2,62.0 191.5,61.3 191.8,64.5 192.1,57.4 192.5,56.8 192.8,64.1 193.1,75.8 193.4,70.4 193.8,67.9 194.1,64.1 194.4,58.1 194.8,56.5 195.1,66.5 195.4,71.0 195.7,72.9 196.1,70.6 196.4,70.8 196.7,74.6 197.0,70.9 197.4,71.9 197.7,53.7 198.0,79.2 198.3,64.0 198.7,70.1 199.0,61.7 199.3,62.5 199.6,69.5 200.0,65.0 200.3,65.2 200.6,69.0 201.0,65.7 201.3,63.5 201.6,64.5 201.9,75.6 202.3,79.9 202.6,68.9 202.9,74.9 203.2,61.5 203.6,60.3 203.9,58.3 204.2,63.0 204.5,68.2 204.9,79.5 205.2,60.3 205.5,61.4 205.8,57.1 206.2,59.5 206.5,56.6 206.8,63.2 207.2,53.3 207.5,51.6 207.8,50.0 208.1,59.1 208.5,46.3 208.8,53.9 209.1,62.6 209.4,56.1 209.8,54.3 210.1,61.5 210.4,52.5 210.7,50.7 211.1,40.7 211.4,66.7 211.7,57.7 212.1,63.3 212.4,63.1 212.7,61.9 213.0,53.3 213.4,56.3 213.7,56.6 214.0,57.1 214.3,61.1 214.7,50.8 215.0,59.5 215.3,71.4 215.6,55.7 216.0,60.6 216.3,56.4 216.6,53.3 216.9,47.7 217.3,69.2 217.6,58.0 217.9,61.5 218.3,52.5 218.6,56.6 218.9,52.7 219.2,57.5 219.6,61.2 219.9,49.1 220.2,53.6 220.5,47.9 220.9,40.5 221.2,58.8 221.5,54.5 221.8,40.8 222.2,58.7 222.5,63.2 222.8,43.8 223.1,58.0 223.5,57.8 223.8,57.6 224.1,59.1 224.5,59.8 224.8,50.6 225.1,56.8 225.4,74.8 225.8,51.2 226.1,60.0 226.4,53.6 226.7,48.1 227.1,51.4 227.4,64.2 227.7,55.8 228.0,70.7 228.4,67.0 228.7,61.4 229.0,49.6 229.4,57.6 229.7,63.5 230.0,57.0 230.3,61.3 230.7,57.1 231.0,70.0 231.3,63.6 231.6,65.8 232.0,58.8 232.3,73.1 232.6,71.9 232.9,66.9 233.3,65.7 233.6,54.7 233.9,62.8 234.2,62.2 234.6,63.6 234.9,52.4 235.2,65.5 235.6,64.4 235.9,63.4 236.2,53.5 236.5,50.8 236.9,65.3 237.2,59.4 237.5,68.2 237.8,66.4 238.2,60.7 238.5,55.9 238.8,65.8 239.1,62.5 239.5,65.3 239.8,59.2 240.1,67.3 240.4,58.7 240.8,57.7 241.1,61.0 241.4,59.9 241.8,48.8 242.1,59.2 242.4,58.5 242.7,67.4 243.1,59.4 243.4,66.5 243.7,42.0 244.0,54.0 244.4,49.9 244.7,59.6 245.0,56.7 245.3,54.8 245.7,54.4 246.0,49.3 246.3,51.1 246.7,49.9 247.0,74.6 247.3,57.0 247.6,54.3 248.0,49.5 248.3,56.3 248.6,45.2 248.9,62.5 249.3,60.5 249.6,39.8 249.9,55.0 250.2,65.3 250.6,61.0 250.9,57.8 251.2,56.7 251.5,43.2 251.9,50.2 252.2,56.2 252.5,55.9 252.9,73.1 253.2,62.1 253.5,62.6 253.8,63.0 254.2,47.7 254.5,71.3 254.8,65.0 255.1,50.9 255.5,50.7 255.8,56.2 256.1,74.7 256.4,62.5 256.8,41.7 257.1,71.2 257.4,60.9 257.7,57.8 258.1,62.7 258.4,67.6 258.7,58.1 259.1,52.1 259.4,62.1 259.7,72.2 260.0,50.7 260.4,59.5 260.7,57.2 261.0,55.1 261.3,67.9 261.7,72.9 262.0,54.4 262.3,55.2 262.6,57.2 263.0,53.0 263.3,53.8 263.6,61.9 264.0,61.3 264.3,60.7 264.6,63.9 264.9,56.1 265.3,54.5 265.6,52.2 265.9,56.8 266.2,53.5 266.6,63.8 266.9,67.9 267.2,77.7 267.5,58.1 267.9,66.0 268.2,63.3 268.5,62.9 268.8,61.7 269.2,64.6 269.5,57.3 269.8,65.1 270.2,58.5 270.5,53.4 270.8,53.6 271.1,64.5 271.5,62.5 271.8,67.9 272.1,65.3 272.4,64.5 272.8,61.4 273.1,52.5 273.4,60.1 273.7,60.4 274.1,50.1 274.4,47.5 274.7,56.5 275.0,44.0 275.4,58.2 275.7,50.4 276.0,61.1 276.4,56.1 276.7,57.2 277.0,58.6 277.3,59.0 277.7,66.5 278.0,49.2 278.3,65.4 278.6,77.4 279.0,64.1 279.3,63.4 279.6,62.2 279.9,61.8 280.3,46.5 280.6,49.0 280.9,55.7 281.2,47.1 281.6,61.0 281.9,59.5 282.2,55.6 282.6,63.5 282.9,60.6 283.2,53.6 283.5,61.3 283.9,51.5 284.2,71.2 284.5,56.9 284.8,61.4 285.2,51.7 285.5,48.9 285.8,54.9 286.1,63.9 286.5,48.5 286.8,52.6 287.1,48.9 287.5,56.7 287.8,75.0 288.1,59.0 288.4,54.5 288.8,46.1 289.1,71.1 289.4,39.3 289.7,63.2 290.1,61.1 290.4,48.4 290.7,60.3 291.0,64.5 291.4,54.8 291.7,60.4 292.0,66.5 292.3,67.3 292.7,54.3 293.0,75.7 293.3,60.7 293.7,63.2 294.0,46.6 294.3,56.4 294.6,67.5 295.0,47.9 295.3,64.4 295.6,61.4 295.9,55.8 296.3,55.0 296.6,59.2 296.9,67.0 297.2,67.8 297.6,59.5 297.9,68.3 298.2,62.6 298.5,79.5 298.9,59.3 299.2,65.3 299.5,71.5 299.9,69.6 300.2,60.4 300.5,56.9 300.8,64.5 301.2,58.6 301.5,58.6 301.8,56.2 302.1,71.2 302.5,61.0 302.8,66.0 303.1,60.5 303.4,63.0 303.8,58.4 304.1,70.2 304.4,59.3 304.8,60.1 305.1,62.1 305.4,57.1 305.7,70.3 306.1,74.6 306.4,66.3 306.7,62.5 307.0,64.3 307.4,68.2 307.7,69.3 308.0,60.3 308.3,81.1 308.7,64.0 309.0,62.7 309.3,60.6 309.6,63.6 310.0,68.5 310.3,49.3"/>
<text x="38.7" y="195.8" text-anchor="end">0</text>
<text x="38.7" y="161.1" text-anchor="end">0.5</text>
<text x="38.7" y="126.4" text-anchor="end">1</text>
<text x="38.7" y="91.7" text-anchor="end">1.5</text>
<text x="38.7" y="57.0" text-anchor="end">2</text>
<text x="38.7" y="22.3" text-anchor="end">2.5</text>
<text transform="translate(53.0 199.8) rotate(-90)" text-anchor="end" font-size="9.9" stroke-width="0.12">0</text>
<text transform="translate(66.1 199.8) rotate(-90)" text-anchor="end" font-size="9.9" stroke-width="0.12">5</text>
<text transform="translate(79.1 199.8) rotate(-90)" text-anchor="end" font-size="9.9" stroke-width="0.12">10</text>
<text transform="translate(92.2 199.8) rotate(-90)" text-anchor="end" font-size="9.9" stroke-width="0.12">15</text>
<text transform="translate(105.2 199.8) rotate(-90)" text-anchor="end" font-size="9.9" stroke-width="0.12">20</text>
<text transform="translate(118.2 199.8) rotate(-90)" text-anchor="end" font-size="9.9" stroke-width="0.12">25</text>
<text transform="translate(131.3 199.8) rotate(-90)" text-anchor="end" font-size="9.9" stroke-width="0.12">30</text>
<text transform="translate(144.3 199.8) rotate(-90)" text-anchor="end" font-size="9.9" stroke-width="0.12">35</text>
<text transform="translate(157.4 199.8) rotate(-90)" text-anchor="end" font-size="9.9" stroke-width="0.12">40</text>
<text transform="translate(170.4 199.8) rotate(-90)" text-anchor="end" font-size="9.9" stroke-width="0.12">45</text>
<text transform="translate(183.4 199.8) rotate(-90)" text-anchor="end" font-size="9.9" stroke-width="0.12">50</text>
<text transform="translate(196.5 199.8) rotate(-90)" text-anchor="end" font-size="9.9" stroke-width="0.12">55</text>
<text transform="translate(209.5 199.8) rotate(-90)" text-anchor="end" font-size="9.9" stroke-width="0.12">60</text>
<text transform="translate(222.6 199.8) rotate(-90)" text-anchor="end" font-size="9.9" stroke-width="0.12">65</text>
<text transform="translate(235.6 199.8) rotate(-90)" text-anchor="end" font-size="9.9" stroke-width="0.12">70</text>
<text transform="translate(248.6 199.8) rotate(-90)" text-anchor="end" font-size="9.9" stroke-width="0.12">75</text>
<text transform="translate(261.7 199.8) rotate(-90)" text-anchor="end" font-size="9.9" stroke-width="0.12">80</text>
<text transform="translate(274.7 199.8) rotate(-90)" text-anchor="end" font-size="9.9" stroke-width="0.12">85</text>
<text transform="translate(287.8 199.8) rotate(-90)" text-anchor="end" font-size="9.9" stroke-width="0.12">90</text>
<text transform="translate(300.8 199.8) rotate(-90)" text-anchor="end" font-size="9.9" stroke-width="0.12">95</text>
<text transform="translate(313.8 199.8) rotate(-90)" text-anchor="end" font-size="9.9" stroke-width="0.12">100</text>
<text x="180.4" y="231.2" text-anchor="middle" font-size="10" textLength="42" lengthAdjust="spacingAndGlyphs">Time (ns)</text>
<text transform="translate(18.3 105.8) rotate(-90)" text-anchor="middle" font-size="10" textLength="43" lengthAdjust="spacingAndGlyphs">RMSD (Å)</text>
<text x="2.0" y="16.0" font-size="11">(a)</text>
<path d="M415.5 192.0V18.5H677.5V192.0" fill="none" stroke="#111" stroke-width="1.1"/>
<path d="M415.5 192.0H678.5" stroke="#6a6a6a" stroke-width="1.6"/>
<polyline fill="none" stroke="#ED7D31" stroke-width="1.0" stroke-linejoin="round" points="415.5,130.0 415.8,97.1 416.2,91.6 416.5,96.4 416.8,93.2 417.1,90.7 417.5,93.9 417.8,79.0 418.1,76.7 418.5,83.3 418.8,93.1 419.1,98.4 419.4,105.7 419.8,82.2 420.1,89.5 420.4,97.9 420.7,103.7 421.1,91.9 421.4,85.3 421.7,91.6 422.1,100.3 422.4,72.4 422.7,88.0 423.0,99.6 423.4,91.5 423.7,90.2 424.0,87.1 424.4,87.1 424.7,94.9 425.0,83.8 425.3,94.8 425.7,91.6 426.0,94.6 426.3,89.3 426.6,93.2 427.0,94.2 427.3,75.1 427.6,93.1 428.0,92.1 428.3,86.6 428.6,89.1 428.9,81.8 429.3,94.8 429.6,87.3 429.9,79.1 430.3,88.1 430.6,90.8 430.9,103.1 431.2,101.4 431.6,96.2 431.9,87.4 432.2,80.8 432.6,80.0 432.9,96.9 433.2,87.3 433.5,87.6 433.9,92.9 434.2,92.2 434.5,96.0 434.8,92.8 435.2,106.3 435.5,84.0 435.8,88.4 436.2,81.1 436.5,94.5 436.8,101.0 437.1,81.0 437.5,104.9 437.8,100.0 438.1,89.4 438.5,84.9 438.8,95.0 439.1,94.0 439.4,92.1 439.8,88.5 440.1,97.4 440.4,92.4 440.7,94.4 441.1,98.3 441.4,98.5 441.7,84.1 442.1,94.9 442.4,98.3 442.7,87.5 443.0,86.8 443.4,102.8 443.7,106.5 444.0,90.5 444.4,88.1 444.7,87.6 445.0,86.6 445.3,104.3 445.7,105.8 446.0,93.4 446.3,95.1 446.7,98.6 447.0,94.7 447.3,102.9 447.6,102.2 448.0,98.7 448.3,97.2 448.6,96.1 448.9,99.5 449.3,95.5 449.6,88.4 449.9,93.3 450.3,97.5 450.6,86.1 450.9,101.4 451.2,94.3 451.6,85.2 451.9,79.4 452.2,84.7 452.6,93.4 452.9,102.3 453.2,95.9 453.5,91.8 453.9,95.0 454.2,103.8 454.5,100.5 454.8,95.2 455.2,94.9 455.5,88.4 455.8,94.5 456.2,92.7 456.5,98.0 456.8,96.3 457.1,107.1 457.5,95.4 457.8,101.9 458.1,94.2 458.5,92.5 458.8,95.3 459.1,86.8 459.4,97.4 459.8,95.7 460.1,99.2 460.4,96.0 460.8,85.7 461.1,98.6 461.4,84.4 461.7,87.6 462.1,90.2 462.4,97.0 462.7,93.1 463.0,96.7 463.4,87.4 463.7,99.4 464.0,98.7 464.4,93.9 464.7,108.3 465.0,85.8 465.3,98.3 465.7,93.5 466.0,98.4 466.3,109.9 466.7,99.6 467.0,94.7 467.3,101.5 467.6,103.3 468.0,102.5 468.3,91.0 468.6,103.1 468.9,99.7 469.3,96.9 469.6,97.3 469.9,102.3 470.3,91.0 470.6,91.8 470.9,105.6 471.2,89.9 471.6,97.5 471.9,96.9 472.2,92.1 472.6,105.4 472.9,103.7 473.2,90.9 473.5,99.6 473.9,81.4 474.2,99.6 474.5,93.7 474.9,102.0 475.2,85.2 475.5,84.8 475.8,102.7 476.2,92.3 476.5,92.3 476.8,84.9 477.1,105.4 477.5,96.2 477.8,90.7 478.1,95.7 478.5,100.9 478.8,104.6 479.1,94.9 479.4,98.9 479.8,106.8 480.1,95.5 480.4,102.6 480.8,95.4 481.1,92.0 481.4,90.5 481.7,94.7 482.1,101.1 482.4,97.6 482.7,100.8 483.0,92.2 483.4,103.0 483.7,90.8 484.0,99.0 484.4,93.6 484.7,96.8 485.0,87.0 485.3,97.2 485.7,83.5 486.0,90.2 486.3,91.1 486.7,93.3 487.0,102.8 487.3,89.1 487.6,103.4 488.0,93.8 488.3,91.7 488.6,89.0 489.0,99.9 489.3,98.7 489.6,99.1 489.9,105.5 490.3,103.0 490.6,106.1 490.9,98.9 491.2,101.4 491.6,106.5 491.9,104.8 492.2,100.3 492.6,103.2 492.9,104.5 493.2,103.2 493.5,95.5 493.9,106.4 494.2,95.1 494.5,91.5 494.9,97.9 495.2,97.2 495.5,106.9 495.8,103.6 496.2,101.3 496.5,94.9 496.8,98.0 497.1,102.0 497.5,98.8 497.8,102.4 498.1,87.3 498.5,102.3 498.8,91.5 499.1,108.6 499.4,108.4 499.8,95.3 500.1,105.6 500.4,91.8 500.8,99.7 501.1,95.8 501.4,111.7 501.7,99.5 502.1,102.7 502.4,92.1 502.7,103.0 503.1,103.0 503.4,108.7 503.7,110.5 504.0,97.0 504.4,102.0 504.7,96.3 505.0,103.9 505.3,99.3 505.7,104.0 506.0,104.9 506.3,99.4 506.7,103.3 507.0,97.4 507.3,107.0 507.6,103.8 508.0,97.7 508.3,107.9 508.6,109.8 509.0,91.8 509.3,99.8 509.6,106.0 509.9,106.6 510.3,96.7 510.6,106.0 510.9,107.7 511.2,96.8 511.6,97.3 511.9,95.2 512.2,102.3 512.6,97.7 512.9,104.5 513.2,100.1 513.5,97.3 513.9,96.2 514.2,88.2 514.5,92.8 514.9,105.1 515.2,103.0 515.5,97.5 515.8,94.1 516.2,100.4 516.5,104.6 516.8,98.9 517.2,92.3 517.5,93.0 517.8,103.5 518.1,104.2 518.5,96.2 518.8,101.4 519.1,99.7 519.4,102.7 519.8,97.1 520.1,97.8 520.4,91.2 520.8,94.9 521.1,101.2 521.4,105.4 521.7,97.3 522.1,103.8 522.4,109.7 522.7,102.7 523.1,107.4 523.4,88.5 523.7,93.4 524.0,92.8 524.4,102.5 524.7,99.5 525.0,99.3 525.3,102.9 525.7,97.9 526.0,95.1 526.3,100.4 526.7,98.3 527.0,90.7 527.3,98.6 527.6,111.1 528.0,108.2 528.3,104.9 528.6,103.5 529.0,101.7 529.3,107.9 529.6,94.5 529.9,102.0 530.3,101.0 530.6,106.0 530.9,111.0 531.3,99.2 531.6,98.3 531.9,96.6 532.2,102.9 532.6,101.3 532.9,108.3 533.2,114.9 533.5,102.4 533.9,100.1 534.2,100.0 534.5,97.4 534.9,95.0 535.2,95.0 535.5,97.2 535.8,100.3 536.2,104.7 536.5,111.2 536.8,101.1 537.2,94.7 537.5,99.2 537.8,89.8 538.1,100.5 538.5,114.3 538.8,97.8 539.1,107.0 539.4,102.9 539.8,105.9 540.1,103.1 540.4,94.0 540.8,97.6 541.1,112.9 541.4,102.6 541.7,109.7 542.1,98.3 542.4,94.3 542.7,104.3 543.1,97.0 543.4,96.4 543.7,96.2 544.0,92.6 544.4,99.4 544.7,96.3 545.0,98.9 545.4,99.5 545.7,99.3 546.0,110.8 546.3,102.7 546.7,98.8 547.0,109.6 547.3,107.1 547.6,120.7 548.0,104.9 548.3,105.0 548.6,103.5 549.0,99.0 549.3,110.4 549.6,111.5 549.9,106.5 550.3,111.7 550.6,102.6 550.9,114.9 551.3,106.0 551.6,108.9 551.9,113.9 552.2,105.3 552.6,110.2 552.9,108.5 553.2,106.3 553.6,120.3 553.9,104.4 554.2,106.8 554.5,106.2 554.9,109.4 555.2,99.0 555.5,106.8 555.8,114.5 556.2,104.7 556.5,104.3 556.8,109.9 557.2,110.6 557.5,108.6 557.8,107.0 558.1,110.2 558.5,112.3 558.8,105.8 559.1,108.2 559.5,108.1 559.8,101.8 560.1,108.5 560.4,113.0 560.8,107.1 561.1,111.1 561.4,98.9 561.7,103.7 562.1,97.0 562.4,103.0 562.7,107.7 563.1,118.6 563.4,109.5 563.7,98.9 564.0,105.2 564.4,99.6 564.7,97.2 565.0,111.7 565.4,108.2 565.7,109.6 566.0,102.2 566.3,99.6 566.7,110.9 567.0,101.0 567.3,102.6 567.7,108.1 568.0,96.8 568.3,95.4 568.6,108.7 569.0,101.3 569.3,110.4 569.6,102.5 569.9,102.7 570.3,109.5 570.6,107.3 570.9,97.2 571.3,103.5 571.6,100.2 571.9,115.0 572.2,109.9 572.6,97.7 572.9,104.1 573.2,108.1 573.6,113.7 573.9,107.5 574.2,112.7 574.5,108.9 574.9,105.5 575.2,108.1 575.5,114.3 575.8,114.4 576.2,108.8 576.5,116.6 576.8,102.7 577.2,109.0 577.5,108.6 577.8,107.6 578.1,110.6 578.5,98.5 578.8,108.3 579.1,111.9 579.5,100.2 579.8,110.8 580.1,97.7 580.4,99.7 580.8,104.3 581.1,101.6 581.4,107.0 581.8,110.0 582.1,99.3 582.4,107.3 582.7,106.6 583.1,107.4 583.4,105.0 583.7,108.3 584.0,104.7 584.4,105.3 584.7,99.7 585.0,111.8 585.4,111.5 585.7,110.2 586.0,114.7 586.3,109.7 586.7,112.2 587.0,113.5 587.3,114.8 587.7,110.8 588.0,106.8 588.3,106.7 588.6,107.4 589.0,112.7 589.3,105.2 589.6,110.8 589.9,104.4 590.3,109.8 590.6,101.9 590.9,105.0 591.3,108.6 591.6,105.6 591.9,102.2 592.2,111.5 592.6,103.1 592.9,114.4 593.2,104.5 593.6,110.2 593.9,112.1 594.2,107.2 594.5,98.5 594.9,95.6 595.2,108.0 595.5,99.4 595.9,103.2 596.2,95.7 596.5,106.7 596.8,103.4 597.2,112.5 597.5,102.7 597.8,106.8 598.1,106.1 598.5,104.9 598.8,112.8 599.1,107.6 599.5,117.9 599.8,111.2 600.1,116.0 600.4,105.7 600.8,106.0 601.1,107.6 601.4,109.2 601.8,100.6 602.1,105.7 602.4,112.3 602.7,98.8 603.1,98.1 603.4,102.0 603.7,117.7 604.0,112.1 604.4,104.8 604.7,107.5 605.0,113.4 605.4,106.1 605.7,112.6 606.0,106.2 606.3,105.7 606.7,99.1 607.0,112.2 607.3,101.0 607.7,110.2 608.0,100.5 608.3,102.4 608.6,104.2 609.0,105.7 609.3,112.7 609.6,107.4 610.0,102.8 610.3,98.4 610.6,100.3 610.9,99.4 611.3,107.4 611.6,110.8 611.9,102.2 612.2,92.4 612.6,104.4 612.9,108.5 613.2,112.7 613.6,96.5 613.9,105.8 614.2,103.0 614.5,98.5 614.9,97.5 615.2,93.4 615.5,97.2 615.9,100.8 616.2,104.6 616.5,110.1 616.8,105.2 617.2,100.6 617.5,116.1 617.8,104.7 618.1,98.9 618.5,101.5 618.8,107.6 619.1,107.4 619.5,104.1 619.8,108.9 620.1,105.1 620.4,100.9 620.8,109.8 621.1,111.7 621.4,102.6 621.8,107.5 622.1,115.0 622.4,121.2 622.7,105.9 623.1,105.4 623.4,114.2 623.7,108.2 624.1,107.5 624.4,104.1 624.7,96.0 625.0,99.1 625.4,102.2 625.7,99.0 626.0,99.4 626.3,100.9 626.7,105.6 627.0,107.6 627.3,94.5 627.7,101.1 628.0,101.7 628.3,95.7 628.6,105.4 629.0,105.9 629.3,101.0 629.6,110.0 630.0,108.2 630.3,106.2 630.6,99.8 630.9,111.0 631.3,105.4 631.6,110.5 631.9,103.9 632.2,112.8 632.6,105.5 632.9,106.2 633.2,105.4 633.6,100.9 633.9,114.3 634.2,105.4 634.5,110.6 634.9,111.3 635.2,103.5 635.5,113.3 635.9,110.0 636.2,101.1 636.5,116.1 636.8,101.7 637.2,114.6 637.5,98.4 637.8,110.0 638.2,105.7 638.5,103.8 638.8,104.3 639.1,103.5 639.5,105.5 639.8,101.0 640.1,105.5 640.4,117.1 640.8,120.2 641.1,93.8 641.4,119.4 641.8,108.9 642.1,112.3 642.4,110.8 642.7,110.1 643.1,95.7 643.4,103.3 643.7,112.7 644.1,104.4 644.4,106.2 644.7,95.6 645.0,104.4 645.4,115.1 645.7,99.7 646.0,101.3 646.3,99.5 646.7,103.3 647.0,118.4 647.3,115.0 647.7,112.4 648.0,110.0 648.3,114.0 648.6,109.9 649.0,116.3 649.3,111.9 649.6,113.0 650.0,108.3 650.3,116.4 650.6,97.5 650.9,114.4 651.3,113.6 651.6,106.4 651.9,114.6 652.3,106.0 652.6,107.7 652.9,108.7 653.2,117.2 653.6,117.2 653.9,116.7 654.2,113.6 654.5,108.8 654.9,108.8 655.2,109.6 655.5,111.6 655.9,104.3 656.2,105.7 656.5,107.3 656.8,108.7 657.2,107.4 657.5,101.1 657.8,113.7 658.2,118.0 658.5,112.4 658.8,110.1 659.1,113.2 659.5,112.3 659.8,110.1 660.1,109.5 660.4,112.3 660.8,114.7 661.1,110.1 661.4,107.8 661.8,110.6 662.1,115.2 662.4,108.2 662.7,106.9 663.1,105.8 663.4,111.3 663.7,111.0 664.1,106.3 664.4,111.0 664.7,112.1 665.0,112.8 665.4,116.0 665.7,107.5 666.0,119.2 666.4,115.9 666.7,117.2 667.0,107.5 667.3,100.3 667.7,119.3 668.0,108.4 668.3,111.6 668.6,102.9 669.0,121.6 669.3,114.7 669.6,107.6 670.0,110.6 670.3,108.1 670.6,119.5 670.9,111.3 671.3,112.4 671.6,99.9 671.9,110.6 672.3,107.7 672.6,111.6 672.9,100.2 673.2,106.7 673.6,109.4 673.9,115.3 674.2,106.6 674.5,109.7 674.9,119.2 675.2,118.8 675.5,112.7 675.9,113.2 676.2,115.4 676.5,109.7 676.8,106.7 677.2,109.9 677.5,112.9"/>
<polyline fill="none" stroke="#A5A5A5" stroke-width="1.0" stroke-linejoin="round" points="415.5,130.0 415.8,91.5 416.2,102.4 416.5,107.0 416.8,104.7 417.1,104.4 417.5,108.4 417.8,102.6 418.1,105.1 418.5,100.6 418.8,108.9 419.1,103.3 419.4,111.5 419.8,102.4 420.1,109.8 420.4,115.7 420.7,101.6 421.1,102.1 421.4,103.3 421.7,99.2 422.1,93.1 422.4,97.3 422.7,95.5 423.0,105.4 423.4,90.8 423.7,110.8 424.0,118.6 424.4,102.8 424.7,109.6 425.0,104.0 425.3,103.1 425.7,103.7 426.0,104.4 426.3,98.3 426.6,92.9 427.0,100.0 427.3,99.5 427.6,94.0 428.0,104.7 428.3,89.1 428.6,87.1 428.9,95.6 429.3,101.4 429.6,88.7 429.9,99.0 430.3,94.5 430.6,91.1 430.9,101.2 431.2,91.7 431.6,99.3 431.9,102.2 432.2,102.2 432.6,107.2 432.9,106.1 433.2,108.0 433.5,108.0 433.9,105.6 434.2,93.1 434.5,108.8 434.8,97.5 435.2,99.7 435.5,87.0 435.8,107.6 436.2,100.3 436.5,100.1 436.8,94.4 437.1,99.5 437.5,98.0 437.8,97.2 438.1,99.1 438.5,101.2 438.8,101.6 439.1,95.5 439.4,103.5 439.8,102.5 440.1,102.5 440.4,87.2 440.7,98.6 441.1,100.5 441.4,99.1 441.7,100.7 442.1,106.3 442.4,105.2 442.7,101.7 443.0,110.8 443.4,106.7 443.7,108.9 444.0,110.1 444.4,100.2 444.7,96.9 445.0,100.0 445.3,110.2 445.7,110.1 446.0,105.2 446.3,101.4 446.7,111.2 447.0,103.3 447.3,101.7 447.6,102.5 448.0,115.3 448.3,99.0 448.6,96.8 448.9,95.3 449.3,101.2 449.6,91.0 449.9,98.6 450.3,98.9 450.6,101.2 450.9,97.5 451.2,97.0 451.6,99.9 451.9,87.6 452.2,95.9 452.6,99.0 452.9,89.5 453.2,102.5 453.5,98.9 453.9,104.0 454.2,98.2 454.5,104.1 454.8,101.5 455.2,111.9 455.5,106.6 455.8,102.7 456.2,103.5 456.5,101.5 456.8,96.7 457.1,104.6 457.5,105.5 457.8,114.2 458.1,108.2 458.5,105.2 458.8,104.5 459.1,101.8 459.4,94.0 459.8,102.0 460.1,91.9 460.4,103.4 460.8,95.3 461.1,96.0 461.4,99.2 461.7,101.1 462.1,97.6 462.4,92.8 462.7,99.3 463.0,98.3 463.4,89.4 463.7,90.5 464.0,89.5 464.4,94.6 464.7,93.2 465.0,97.9 465.3,95.2 465.7,93.8 466.0,91.3 466.3,97.5 466.7,94.1 467.0,96.2 467.3,93.3 467.6,93.7 468.0,102.6 468.3,94.2 468.6,99.5 468.9,93.5 469.3,89.7 469.6,100.4 469.9,93.1 470.3,98.6 470.6,90.3 470.9,92.7 471.2,104.0 471.6,93.1 471.9,98.4 472.2,88.3 472.6,98.3 472.9,98.4 473.2,88.3 473.5,101.8 473.9,91.7 474.2,105.6 474.5,110.3 474.9,106.8 475.2,97.5 475.5,103.2 475.8,103.9 476.2,96.4 476.5,107.2 476.8,102.5 477.1,100.2 477.5,107.7 477.8,98.5 478.1,100.4 478.5,101.4 478.8,96.8 479.1,103.8 479.4,98.0 479.8,98.1 480.1,99.1 480.4,95.4 480.8,100.8 481.1,101.4 481.4,106.3 481.7,96.0 482.1,101.2 482.4,89.7 482.7,100.2 483.0,99.2 483.4,100.1 483.7,94.3 484.0,98.2 484.4,97.5 484.7,98.1 485.0,99.2 485.3,101.1 485.7,94.2 486.0,98.6 486.3,93.2 486.7,92.8 487.0,104.0 487.3,97.9 487.6,98.5 488.0,93.6 488.3,98.9 488.6,110.7 489.0,100.5 489.3,96.1 489.6,103.8 489.9,110.3 490.3,99.4 490.6,96.9 490.9,93.0 491.2,95.1 491.6,110.9 491.9,98.9 492.2,96.7 492.6,104.5 492.9,107.0 493.2,92.9 493.5,107.5 493.9,98.1 494.2,98.9 494.5,97.7 494.9,100.7 495.2,106.2 495.5,97.7 495.8,106.5 496.2,105.6 496.5,106.0 496.8,102.4 497.1,112.4 497.5,97.8 497.8,98.5 498.1,113.2 498.5,109.9 498.8,109.8 499.1,102.0 499.4,107.9 499.8,104.3 500.1,101.7 500.4,106.8 500.8,104.5 501.1,101.0 501.4,96.4 501.7,111.1 502.1,113.9 502.4,97.4 502.7,104.7 503.1,101.0 503.4,103.3 503.7,107.0 504.0,101.5 504.4,98.5 504.7,105.8 505.0,115.5 505.3,110.2 505.7,110.8 506.0,102.8 506.3,105.3 506.7,98.3 507.0,99.0 507.3,112.1 507.6,94.5 508.0,107.2 508.3,110.8 508.6,104.1 509.0,95.9 509.3,99.8 509.6,101.3 509.9,102.7 510.3,106.8 510.6,104.1 510.9,98.1 511.2,105.4 511.6,105.1 511.9,108.0 512.2,100.5 512.6,102.6 512.9,100.4 513.2,102.0 513.5,102.5 513.9,102.2 514.2,106.1 514.5,104.5 514.9,91.7 515.2,107.1 515.5,104.7 515.8,105.2 516.2,90.2 516.5,106.0 516.8,104.4 517.2,96.9 517.5,99.7 517.8,96.3 518.1,99.3 518.5,97.7 518.8,95.8 519.1,99.7 519.4,103.2 519.8,104.5 520.1,102.9 520.4,104.3 520.8,97.2 521.1,105.0 521.4,105.8 521.7,102.9 522.1,98.7 522.4,107.2 522.7,97.7 523.1,97.8 523.4,109.1 523.7,102.8 524.0,112.2 524.4,104.1 524.7,107.8 525.0,108.4 525.3,99.0 525.7,103.9 526.0,109.8 526.3,96.5 526.7,105.7 527.0,109.2 527.3,103.0 527.6,104.9 528.0,103.6 528.3,111.4 528.6,104.2 529.0,96.8 529.3,97.4 529.6,99.6 529.9,114.2 530.3,101.6 530.6,101.1 530.9,109.5 531.3,101.4 531.6,102.7 531.9,106.2 532.2,98.7 532.6,108.5 532.9,103.6 533.2,100.3 533.5,96.5 533.9,108.3 534.2,107.3 534.5,92.9 534.9,108.7 535.2,96.9 535.5,105.3 535.8,107.3 536.2,103.7 536.5,99.8 536.8,98.5 537.2,106.9 537.5,96.8 537.8,102.5 538.1,102.4 538.5,100.3 538.8,95.7 539.1,95.2 539.4,104.2 539.8,91.1 540.1,91.4 540.4,92.4 540.8,100.0 541.1,101.3 541.4,105.9 541.7,99.8 542.1,104.6 542.4,108.0 542.7,103.3 543.1,100.4 543.4,107.5 543.7,105.2 544.0,99.7 544.4,106.4 544.7,99.0 545.0,109.4 545.4,111.0 545.7,114.0 546.0,112.2 546.3,107.1 546.7,103.3 547.0,111.5 547.3,102.7 547.6,102.2 548.0,107.5 548.3,98.7 548.6,103.8 549.0,103.0 549.3,102.4 549.6,96.5 549.9,98.9 550.3,96.4 550.6,102.2 550.9,107.5 551.3,96.9 551.6,100.9 551.9,106.6 552.2,96.3 552.6,104.4 552.9,102.2 553.2,104.6 553.6,106.0 553.9,104.1 554.2,100.0 554.5,107.6 554.9,104.0 555.2,97.1 555.5,107.3 555.8,102.3 556.2,102.9 556.5,105.1 556.8,102.2 557.2,110.8 557.5,100.9 557.8,99.0 558.1,106.5 558.5,100.1 558.8,101.1 559.1,101.7 559.5,90.2 559.8,104.7 560.1,104.9 560.4,102.7 560.8,99.9 561.1,107.1 561.4,102.4 561.7,103.3 562.1,111.5 562.4,107.8 562.7,98.4 563.1,98.1 563.4,102.7 563.7,104.7 564.0,106.4 564.4,97.6 564.7,99.9 565.0,100.8 565.4,101.0 565.7,109.6 566.0,101.7 566.3,96.1 566.7,99.8 567.0,95.6 567.3,104.5 567.7,101.7 568.0,98.7 568.3,101.0 568.6,104.6 569.0,108.4 569.3,114.0 569.6,106.5 569.9,114.0 570.3,104.7 570.6,112.6 570.9,106.7 571.3,112.9 571.6,113.8 571.9,106.3 572.2,104.1 572.6,105.3 572.9,106.2 573.2,108.4 573.6,104.6 573.9,101.4 574.2,102.7 574.5,104.8 574.9,107.9 575.2,111.3 575.5,109.2 575.8,100.7 576.2,107.7 576.5,106.0 576.8,104.6 577.2,107.2 577.5,100.7 577.8,102.2 578.1,102.1 578.5,99.4 578.8,105.4 579.1,108.4 579.5,107.0 579.8,97.4 580.1,101.4 580.4,105.1 580.8,101.7 581.1,97.3 581.4,99.2 581.8,98.2 582.1,100.3 582.4,98.8 582.7,99.6 583.1,100.4 583.4,101.6 583.7,103.9 584.0,103.3 584.4,113.3 584.7,107.3 585.0,97.5 585.4,101.5 585.7,105.3 586.0,100.9 586.3,94.8 586.7,98.3 587.0,92.7 587.3,94.0 587.7,100.7 588.0,101.6 588.3,103.5 588.6,95.6 589.0,105.0 589.3,100.7 589.6,108.4 589.9,100.6 590.3,107.1 590.6,97.3 590.9,101.1 591.3,106.0 591.6,113.1 591.9,107.4 592.2,100.5 592.6,106.9 592.9,108.2 593.2,106.0 593.6,103.1 593.9,103.1 594.2,105.2 594.5,104.1 594.9,105.8 595.2,106.8 595.5,99.5 595.9,97.8 596.2,102.5 596.5,107.8 596.8,99.9 597.2,95.6 597.5,109.0 597.8,96.5 598.1,107.6 598.5,108.7 598.8,99.8 599.1,92.0 599.5,106.3 599.8,95.1 600.1,102.3 600.4,90.6 600.8,101.9 601.1,106.6 601.4,104.4 601.8,95.3 602.1,100.7 602.4,104.0 602.7,96.4 603.1,96.8 603.4,99.0 603.7,100.9 604.0,104.1 604.4,100.5 604.7,106.2 605.0,101.1 605.4,101.7 605.7,88.8 606.0,94.2 606.3,96.0 606.7,99.2 607.0,97.0 607.3,96.9 607.7,99.6 608.0,102.1 608.3,100.7 608.6,103.8 609.0,104.0 609.3,105.7 609.6,105.6 610.0,105.1 610.3,101.4 610.6,96.1 610.9,100.0 611.3,106.8 611.6,102.7 611.9,105.1 612.2,102.3 612.6,97.4 612.9,108.8 613.2,99.1 613.6,108.6 613.9,112.3 614.2,100.4 614.5,98.1 614.9,101.3 615.2,106.2 615.5,103.6 615.9,103.5 616.2,97.6 616.5,105.3 616.8,97.7 617.2,100.6 617.5,98.7 617.8,102.3 618.1,101.1 618.5,93.2 618.8,98.9 619.1,88.4 619.5,87.1 619.8,92.7 620.1,88.5 620.4,94.6 620.8,98.0 621.1,95.2 621.4,92.2 621.8,90.8 622.1,88.5 622.4,87.1 622.7,93.1 623.1,95.3 623.4,92.7 623.7,101.0 624.1,90.6 624.4,102.7 624.7,98.7 625.0,97.5 625.4,97.8 625.7,98.1 626.0,102.1 626.3,105.5 626.7,102.3 627.0,98.5 627.3,90.8 627.7,98.2 628.0,100.4 628.3,90.7 628.6,94.2 629.0,101.5 629.3,98.0 629.6,100.2 630.0,94.3 630.3,95.5 630.6,89.5 630.9,98.6 631.3,98.5 631.6,99.0 631.9,97.4 632.2,106.2 632.6,94.4 632.9,100.3 633.2,103.1 633.6,97.1 633.9,99.0 634.2,104.3 634.5,97.2 634.9,99.1 635.2,99.1 635.5,104.2 635.9,112.6 636.2,102.4 636.5,106.2 636.8,101.5 637.2,101.7 637.5,110.3 637.8,94.8 638.2,100.8 638.5,106.1 638.8,107.8 639.1,99.1 639.5,102.0 639.8,103.4 640.1,106.8 640.4,99.4 640.8,103.1 641.1,101.2 641.4,97.4 641.8,96.8 642.1,95.0 642.4,97.3 642.7,96.3 643.1,92.5 643.4,90.4 643.7,103.5 644.1,92.6 644.4,98.0 644.7,96.9 645.0,91.4 645.4,98.9 645.7,94.5 646.0,96.2 646.3,97.9 646.7,96.0 647.0,99.8 647.3,92.9 647.7,110.1 648.0,99.0 648.3,100.6 648.6,103.2 649.0,92.3 649.3,105.1 649.6,104.9 650.0,95.9 650.3,94.2 650.6,98.0 650.9,94.9 651.3,100.2 651.6,101.8 651.9,104.6 652.3,104.2 652.6,109.4 652.9,92.9 653.2,100.7 653.6,104.8 653.9,92.0 654.2,100.3 654.5,98.6 654.9,111.5 655.2,107.2 655.5,101.3 655.9,101.3 656.2,99.7 656.5,104.6 656.8,101.8 657.2,101.5 657.5,98.5 657.8,91.8 658.2,93.7 658.5,97.0 658.8,90.9 659.1,87.2 659.5,93.5 659.8,91.1 660.1,93.5 660.4,92.2 660.8,100.7 661.1,101.8 661.4,102.2 661.8,90.2 662.1,94.2 662.4,102.7 662.7,99.2 663.1,105.6 663.4,93.1 663.7,95.5 664.1,94.5 664.4,95.9 664.7,91.5 665.0,87.6 665.4,95.0 665.7,93.7 666.0,90.3 666.4,102.0 666.7,91.7 667.0,93.4 667.3,91.6 667.7,89.2 668.0,89.5 668.3,89.8 668.6,84.9 669.0,84.8 669.3,85.6 669.6,89.1 670.0,89.9 670.3,86.4 670.6,92.2 670.9,92.8 671.3,85.1 671.6,92.4 671.9,95.6 672.3,93.6 672.6,90.7 672.9,88.1 673.2,90.9 673.6,94.8 673.9,88.4 674.2,92.0 674.5,100.8 674.9,97.8 675.2,101.5 675.5,89.2 675.9,100.9 676.2,100.7 676.5,92.5 676.8,104.2 677.2,97.8 677.5,100.7"/>
<polyline fill="none" stroke="#FFC000" stroke-width="1.0" stroke-linejoin="round" points="415.5,130.0 415.8,81.9 416.2,67.5 416.5,64.6 416.8,63.1 417.1,71.5 417.5,58.1 417.8,63.6 418.1,66.9 418.5,66.2 418.8,65.2 419.1,81.4 419.4,59.4 419.8,54.2 420.1,75.8 420.4,62.9 420.7,66.7 421.1,78.9 421.4,70.5 421.7,74.9 422.1,64.3 422.4,71.5 422.7,77.2 423.0,66.5 423.4,68.6 423.7,59.9 424.0,82.9 424.4,72.3 424.7,85.3 425.0,75.5 425.3,51.6 425.7,71.8 426.0,90.0 426.3,84.8 426.6,62.5 427.0,77.6 427.3,63.2 427.6,63.4 428.0,81.8 428.3,61.0 428.6,68.8 428.9,77.1 429.3,70.5 429.6,58.9 429.9,67.8 430.3,61.9 430.6,65.6 430.9,79.9 431.2,74.5 431.6,76.3 431.9,88.6 432.2,76.6 432.6,85.6 432.9,78.2 433.2,91.8 433.5,83.9 433.9,77.5 434.2,77.9 434.5,76.6 434.8,86.4 435.2,75.0 435.5,74.1 435.8,69.7 436.2,73.3 436.5,66.9 436.8,78.5 437.1,67.6 437.5,71.7 437.8,63.2 438.1,68.4 438.5,80.5 438.8,83.8 439.1,64.5 439.4,75.2 439.8,88.9 440.1,83.7 440.4,78.2 440.7,69.0 441.1,78.2 441.4,72.4 441.7,85.9 442.1,66.8 442.4,58.2 442.7,73.3 443.0,76.9 443.4,66.3 443.7,70.7 444.0,86.7 444.4,81.7 444.7,75.6 445.0,82.9 445.3,76.5 445.7,63.3 446.0,92.2 446.3,69.9 446.7,76.2 447.0,85.1 447.3,65.0 447.6,66.2 448.0,83.1 448.3,75.2 448.6,65.7 448.9,81.1 449.3,74.0 449.6,81.9 449.9,88.2 450.3,76.0 450.6,86.9 450.9,91.8 451.2,86.5 451.6,73.7 451.9,82.6 452.2,90.8 452.6,92.9 452.9,95.0 453.2,91.0 453.5,78.5 453.9,89.7 454.2,94.9 454.5,84.8 454.8,69.6 455.2,94.1 455.5,99.7 455.8,88.5 456.2,80.7 456.5,78.6 456.8,84.0 457.1,77.4 457.5,70.0 457.8,84.1 458.1,86.0 458.5,81.1 458.8,80.0 459.1,83.8 459.4,73.5 459.8,86.6 460.1,77.8 460.4,80.4 460.8,70.2 461.1,79.6 461.4,85.2 461.7,77.4 462.1,73.9 462.4,78.8 462.7,81.3 463.0,80.8 463.4,80.9 463.7,63.1 464.0,84.8 464.4,73.0 464.7,63.6 465.0,70.1 465.3,76.3 465.7,69.1 466.0,85.6 466.3,77.8 466.7,80.0 467.0,82.1 467.3,73.5 467.6,82.2 468.0,78.3 468.3,81.8 468.6,81.8 468.9,65.3 469.3,68.0 469.6,83.4 469.9,72.3 470.3,82.7 470.6,80.6 470.9,75.3 471.2,68.0 471.6,78.8 471.9,83.3 472.2,83.4 472.6,82.5 472.9,84.3 473.2,75.2 473.5,87.3 473.9,82.1 474.2,84.9 474.5,77.5 474.9,81.7 475.2,80.0 475.5,92.8 475.8,79.2 476.2,76.2 476.5,85.2 476.8,81.2 477.1,79.2 477.5,77.3 477.8,84.5 478.1,91.5 478.5,62.8 478.8,81.4 479.1,99.7 479.4,81.8 479.8,84.5 480.1,77.5 480.4,96.0 480.8,85.1 481.1,97.1 481.4,82.7 481.7,83.9 482.1,93.9 482.4,80.8 482.7,85.7 483.0,87.1 483.4,85.4 483.7,78.8 484.0,93.2 484.4,82.4 484.7,78.4 485.0,104.3 485.3,94.4 485.7,89.9 486.0,82.5 486.3,93.1 486.7,74.3 487.0,99.9 487.3,85.2 487.6,103.5 488.0,84.8 488.3,88.1 488.6,89.4 489.0,88.0 489.3,78.2 489.6,82.5 489.9,74.9 490.3,79.2 490.6,65.1 490.9,72.3 491.2,85.1 491.6,68.7 491.9,77.6 492.2,78.1 492.6,79.7 492.9,78.1 493.2,68.6 493.5,82.1 493.9,78.3 494.2,85.5 494.5,84.7 494.9,93.9 495.2,90.0 495.5,95.3 495.8,73.3 496.2,82.5 496.5,103.5 496.8,95.5 497.1,95.4 497.5,82.9 497.8,91.6 498.1,83.4 498.5,85.5 498.8,68.7 499.1,97.9 499.4,79.2 499.8,90.0 500.1,93.1 500.4,85.6 500.8,100.1 501.1,97.6 501.4,94.7 501.7,91.5 502.1,86.2 502.4,96.5 502.7,94.7 503.1,82.5 503.4,86.2 503.7,83.7 504.0,72.7 504.4,70.3 504.7,84.5 505.0,91.3 505.3,81.4 505.7,81.5 506.0,95.8 506.3,86.8 506.7,90.9 507.0,68.6 507.3,81.3 507.6,91.5 508.0,83.3 508.3,100.1 508.6,80.6 509.0,86.3 509.3,87.9 509.6,79.7 509.9,79.0 510.3,80.0 510.6,80.0 510.9,87.4 511.2,86.7 511.6,92.0 511.9,79.0 512.2,88.8 512.6,82.6 512.9,88.1 513.2,93.2 513.5,88.3 513.9,92.8 514.2,86.1 514.5,97.0 514.9,87.6 515.2,89.7 515.5,91.2 515.8,94.1 516.2,84.5 516.5,95.7 516.8,90.9 517.2,88.9 517.5,81.6 517.8,90.4 518.1,93.5 518.5,88.0 518.8,92.2 519.1,85.8 519.4,87.8 519.8,81.4 520.1,94.5 520.4,87.4 520.8,77.3 521.1,93.8 521.4,79.6 521.7,83.3 522.1,92.2 522.4,86.7 522.7,86.9 523.1,81.1 523.4,95.8 523.7,81.7 524.0,81.6 524.4,93.5 524.7,84.7 525.0,88.4 525.3,87.4 525.7,84.4 526.0,80.4 526.3,83.7 526.7,78.3 527.0,87.0 527.3,91.3 527.6,71.7 528.0,86.4 528.3,88.9 528.6,76.9 529.0,77.5 529.3,83.0 529.6,80.5 529.9,81.0 530.3,89.0 530.6,79.2 530.9,88.4 531.3,90.7 531.6,88.8 531.9,94.1 532.2,93.5 532.6,97.8 532.9,86.7 533.2,88.5 533.5,78.2 533.9,86.2 534.2,92.0 534.5,80.4 534.9,97.1 535.2,83.9 535.5,97.7 535.8,92.1 536.2,86.2 536.5,98.3 536.8,87.5 537.2,84.6 537.5,90.6 537.8,81.4 538.1,90.5 538.5,98.0 538.8,94.3 539.1,90.7 539.4,91.6 539.8,90.5 540.1,96.4 540.4,95.6 540.8,96.5 541.1,93.4 541.4,99.9 541.7,89.6 542.1,90.0 542.4,85.8 542.7,90.0 543.1,99.7 543.4,87.2 543.7,84.9 544.0,84.0 544.4,96.9 544.7,84.5 545.0,76.8 545.4,81.9 545.7,96.9 546.0,89.7 546.3,100.2 546.7,94.3 547.0,89.6 547.3,96.9 547.6,91.1 548.0,91.1 548.3,95.6 548.6,86.6 549.0,99.2 549.3,94.9 549.6,100.5 549.9,91.9 550.3,91.1 550.6,92.2 550.9,95.1 551.3,94.0 551.6,86.4 551.9,82.4 552.2,94.4 552.6,93.4 552.9,76.9 553.2,82.1 553.6,82.5 553.9,85.0 554.2,78.0 554.5,89.6 554.9,89.2 555.2,88.5 555.5,97.0 555.8,95.2 556.2,86.4 556.5,80.5 556.8,77.0 557.2,83.6 557.5,86.1 557.8,96.2 558.1,90.3 558.5,82.8 558.8,88.4 559.1,83.8 559.5,80.2 559.8,75.2 560.1,93.8 560.4,83.8 560.8,70.6 561.1,68.1 561.4,86.9 561.7,83.0 562.1,77.0 562.4,71.4 562.7,66.4 563.1,74.8 563.4,79.8 563.7,75.1 564.0,78.0 564.4,67.4 564.7,75.7 565.0,73.6 565.4,64.9 565.7,68.1 566.0,82.2 566.3,65.8 566.7,78.7 567.0,85.5 567.3,81.2 567.7,71.0 568.0,71.5 568.3,73.2 568.6,79.6 569.0,77.4 569.3,69.2 569.6,73.9 569.9,75.2 570.3,69.6 570.6,72.4 570.9,75.1 571.3,76.8 571.6,73.8 571.9,72.4 572.2,88.7 572.6,72.6 572.9,65.2 573.2,69.0 573.6,76.6 573.9,68.5 574.2,80.2 574.5,60.1 574.9,92.6 575.2,76.7 575.5,81.3 575.8,75.6 576.2,72.4 576.5,74.4 576.8,76.1 577.2,83.2 577.5,62.9 577.8,74.0 578.1,74.4 578.5,67.3 578.8,75.7 579.1,73.5 579.5,78.0 579.8,80.0 580.1,65.1 580.4,83.2 580.8,75.6 581.1,64.4 581.4,79.9 581.8,85.6 582.1,72.7 582.4,91.5 582.7,81.1 583.1,80.4 583.4,74.6 583.7,73.2 584.0,63.9 584.4,62.1 584.7,62.2 585.0,67.8 585.4,60.0 585.7,71.2 586.0,80.3 586.3,71.4 586.7,72.7 587.0,70.0 587.3,77.6 587.7,70.0 588.0,84.2 588.3,72.4 588.6,68.9 589.0,76.2 589.3,71.2 589.6,85.8 589.9,70.8 590.3,80.5 590.6,78.8 590.9,60.6 591.3,82.2 591.6,65.2 591.9,73.7 592.2,77.3 592.6,68.9 592.9,60.8 593.2,66.8 593.6,74.6 593.9,76.6 594.2,68.4 594.5,67.3 594.9,72.8 595.2,78.3 595.5,79.6 595.9,76.3 596.2,73.5 596.5,77.0 596.8,79.8 597.2,87.0 597.5,86.2 597.8,83.7 598.1,77.5 598.5,79.2 598.8,71.8 599.1,66.3 599.5,79.3 599.8,68.2 600.1,72.3 600.4,62.1 600.8,76.0 601.1,71.2 601.4,67.0 601.8,68.8 602.1,66.1 602.4,76.5 602.7,64.3 603.1,68.5 603.4,67.9 603.7,78.4 604.0,75.1 604.4,80.3 604.7,81.7 605.0,81.0 605.4,72.0 605.7,84.5 606.0,84.1 606.3,77.8 606.7,71.5 607.0,88.5 607.3,73.3 607.7,76.3 608.0,73.0 608.3,89.0 608.6,80.7 609.0,79.2 609.3,86.5 609.6,80.3 610.0,72.8 610.3,74.1 610.6,78.0 610.9,75.6 611.3,75.5 611.6,80.6 611.9,88.6 612.2,83.8 612.6,78.2 612.9,77.4 613.2,84.7 613.6,88.3 613.9,84.9 614.2,86.1 614.5,79.9 614.9,75.9 615.2,82.5 615.5,77.1 615.9,73.5 616.2,77.2 616.5,85.7 616.8,78.5 617.2,84.0 617.5,79.8 617.8,76.5 618.1,77.9 618.5,86.9 618.8,84.7 619.1,87.0 619.5,74.6 619.8,73.6 620.1,82.3 620.4,83.4 620.8,82.3 621.1,85.0 621.4,85.4 621.8,83.9 622.1,77.9 622.4,83.2 622.7,75.8 623.1,71.5 623.4,84.9 623.7,89.4 624.1,71.3 624.4,80.9 624.7,84.1 625.0,73.5 625.4,74.6 625.7,82.4 626.0,97.3 626.3,83.1 626.7,69.5 627.0,82.9 627.3,80.9 627.7,72.1 628.0,69.3 628.3,77.5 628.6,74.8 629.0,73.5 629.3,80.2 629.6,76.3 630.0,82.9 630.3,76.5 630.6,80.5 630.9,82.0 631.3,78.9 631.6,75.9 631.9,80.7 632.2,73.7 632.6,81.2 632.9,72.2 633.2,74.0 633.6,70.7 633.9,72.9 634.2,74.1 634.5,75.5 634.9,71.0 635.2,77.9 635.5,72.3 635.9,71.8 636.2,63.1 636.5,76.0 636.8,75.6 637.2,82.4 637.5,81.0 637.8,90.2 638.2,96.6 638.5,80.0 638.8,70.0 639.1,92.5 639.5,81.0 639.8,76.0 640.1,80.3 640.4,82.2 640.8,83.4 641.1,74.0 641.4,89.8 641.8,75.1 642.1,71.5 642.4,84.8 642.7,80.1 643.1,84.6 643.4,78.9 643.7,85.4 644.1,71.9 644.4,77.9 644.7,82.8 645.0,70.0 645.4,76.0 645.7,78.0 646.0,89.8 646.3,79.1 646.7,86.6 647.0,90.5 647.3,75.2 647.7,84.2 648.0,80.0 648.3,82.3 648.6,81.7 649.0,89.4 649.3,81.4 649.6,85.9 650.0,76.4 650.3,91.0 650.6,86.7 650.9,83.6 651.3,73.6 651.6,86.0 651.9,76.8 652.3,85.5 652.6,82.8 652.9,78.8 653.2,71.9 653.6,72.9 653.9,77.5 654.2,83.7 654.5,84.1 654.9,81.1 655.2,84.9 655.5,78.5 655.9,85.7 656.2,77.1 656.5,83.5 656.8,73.9 657.2,81.4 657.5,82.7 657.8,77.2 658.2,88.3 658.5,93.9 658.8,74.4 659.1,86.9 659.5,92.5 659.8,87.0 660.1,86.4 660.4,77.7 660.8,90.2 661.1,74.2 661.4,90.8 661.8,91.8 662.1,76.9 662.4,78.7 662.7,63.7 663.1,77.4 663.4,79.8 663.7,91.6 664.1,80.2 664.4,80.2 664.7,69.1 665.0,62.4 665.4,71.4 665.7,76.7 666.0,85.0 666.4,73.3 666.7,69.2 667.0,60.8 667.3,68.9 667.7,67.5 668.0,62.4 668.3,61.7 668.6,69.1 669.0,56.0 669.3,68.6 669.6,64.8 670.0,66.9 670.3,75.0 670.6,57.0 670.9,70.0 671.3,65.5 671.6,63.7 671.9,65.6 672.3,62.5 672.6,72.0 672.9,74.6 673.2,68.6 673.6,85.9 673.9,82.4 674.2,76.8 674.5,84.9 674.9,58.2 675.2,56.9 675.5,80.3 675.9,66.7 676.2,66.1 676.5,74.8 676.8,74.1 677.2,74.0 677.5,72.6"/>
<polyline fill="none" stroke="#5B9BD5" stroke-width="1.0" stroke-linejoin="round" points="415.5,130.0 415.8,65.9 416.2,70.4 416.5,61.2 416.8,75.1 417.1,67.1 417.5,54.2 417.8,77.5 418.1,49.5 418.5,67.5 418.8,63.9 419.1,77.9 419.4,68.1 419.8,67.6 420.1,68.2 420.4,72.0 420.7,50.7 421.1,63.3 421.4,75.1 421.7,77.4 422.1,76.5 422.4,62.0 422.7,51.1 423.0,76.8 423.4,59.4 423.7,62.6 424.0,71.5 424.4,65.3 424.7,69.2 425.0,70.2 425.3,68.0 425.7,71.9 426.0,67.8 426.3,85.9 426.6,82.5 427.0,81.8 427.3,66.6 427.6,79.5 428.0,74.3 428.3,77.5 428.6,77.1 428.9,79.1 429.3,73.1 429.6,73.0 429.9,82.1 430.3,84.8 430.6,88.9 430.9,82.1 431.2,91.9 431.6,97.6 431.9,95.7 432.2,99.1 432.6,81.6 432.9,83.7 433.2,83.6 433.5,88.8 433.9,75.5 434.2,78.2 434.5,76.1 434.8,67.5 435.2,66.4 435.5,77.2 435.8,56.3 436.2,72.4 436.5,70.6 436.8,57.5 437.1,70.5 437.5,68.9 437.8,77.3 438.1,79.3 438.5,96.3 438.8,86.8 439.1,79.1 439.4,81.4 439.8,91.2 440.1,78.9 440.4,83.6 440.7,96.3 441.1,75.3 441.4,78.3 441.7,74.7 442.1,80.6 442.4,93.4 442.7,90.1 443.0,91.3 443.4,78.7 443.7,74.4 444.0,69.1 444.4,72.6 444.7,91.5 445.0,78.1 445.3,72.9 445.7,84.3 446.0,75.6 446.3,77.5 446.7,68.8 447.0,79.1 447.3,68.3 447.6,82.6 448.0,81.0 448.3,69.1 448.6,80.9 448.9,74.5 449.3,91.7 449.6,78.7 449.9,88.9 450.3,65.4 450.6,57.0 450.9,68.0 451.2,71.0 451.6,73.0 451.9,61.7 452.2,75.7 452.6,75.5 452.9,65.8 453.2,60.2 453.5,82.5 453.9,77.5 454.2,78.4 454.5,74.9 454.8,63.7 455.2,73.8 455.5,60.9 455.8,72.3 456.2,69.9 456.5,71.7 456.8,67.9 457.1,67.0 457.5,66.1 457.8,64.4 458.1,65.1 458.5,59.8 458.8,61.0 459.1,66.3 459.4,60.4 459.8,61.2 460.1,62.2 460.4,66.1 460.8,71.5 461.1,58.6 461.4,65.7 461.7,57.4 462.1,79.9 462.4,73.5 462.7,52.4 463.0,64.2 463.4,67.6 463.7,73.7 464.0,57.7 464.4,72.5 464.7,76.2 465.0,67.1 465.3,86.3 465.7,78.1 466.0,77.9 466.3,64.6 466.7,70.2 467.0,72.6 467.3,60.0 467.6,82.2 468.0,73.9 468.3,67.9 468.6,72.9 468.9,59.8 469.3,60.9 469.6,68.0 469.9,66.1 470.3,61.4 470.6,58.1 470.9,71.4 471.2,65.3 471.6,78.9 471.9,74.0 472.2,73.7 472.6,70.6 472.9,70.9 473.2,74.7 473.5,70.8 473.9,77.9 474.2,60.2 474.5,60.0 474.9,48.6 475.2,64.5 475.5,54.6 475.8,63.7 476.2,67.1 476.5,61.4 476.8,67.1 477.1,63.1 477.5,61.5 477.8,64.1 478.1,76.9 478.5,72.6 478.8,49.9 479.1,57.5 479.4,68.2 479.8,71.1 480.1,73.0 480.4,69.8 480.8,67.3 481.1,61.6 481.4,55.3 481.7,74.5 482.1,66.5 482.4,63.3 482.7,58.5 483.0,71.7 483.4,59.0 483.7,59.6 484.0,69.1 484.4,75.5 484.7,71.4 485.0,61.8 485.3,64.0 485.7,55.6 486.0,69.9 486.3,68.8 486.7,49.9 487.0,61.8 487.3,74.9 487.6,74.7 488.0,80.8 488.3,66.3 488.6,77.3 489.0,74.3 489.3,74.6 489.6,63.2 489.9,76.6 490.3,72.1 490.6,70.5 490.9,69.9 491.2,67.4 491.6,74.4 491.9,81.0 492.2,72.6 492.6,65.6 492.9,72.6 493.2,67.8 493.5,69.1 493.9,91.7 494.2,58.9 494.5,70.8 494.9,71.6 495.2,87.1 495.5,69.2 495.8,56.4 496.2,62.3 496.5,61.3 496.8,68.7 497.1,63.8 497.5,66.8 497.8,78.0 498.1,70.2 498.5,64.1 498.8,68.1 499.1,75.6 499.4,67.6 499.8,70.6 500.1,57.1 500.4,70.9 500.8,67.6 501.1,78.7 501.4,73.4 501.7,55.6 502.1,69.3 502.4,71.2 502.7,68.5 503.1,88.4 503.4,71.6 503.7,80.9 504.0,66.2 504.4,81.6 504.7,75.5 505.0,74.0 505.3,79.2 505.7,90.3 506.0,70.8 506.3,75.2 506.7,85.5 507.0,70.8 507.3,74.6 507.6,89.9 508.0,73.3 508.3,77.9 508.6,61.8 509.0,74.5 509.3,89.6 509.6,85.4 509.9,79.4 510.3,71.7 510.6,76.6 510.9,71.5 511.2,77.3 511.6,80.4 511.9,71.1 512.2,90.8 512.6,90.5 512.9,89.9 513.2,92.5 513.5,89.7 513.9,84.5 514.2,93.3 514.5,86.5 514.9,75.5 515.2,83.4 515.5,76.8 515.8,85.2 516.2,85.1 516.5,97.9 516.8,94.6 517.2,88.9 517.5,75.6 517.8,74.2 518.1,84.8 518.5,81.6 518.8,72.2 519.1,78.7 519.4,72.5 519.8,84.5 520.1,76.3 520.4,92.9 520.8,73.9 521.1,72.5 521.4,90.4 521.7,88.3 522.1,86.4 522.4,81.0 522.7,83.2 523.1,84.9 523.4,82.2 523.7,82.1 524.0,88.4 524.4,79.0 524.7,82.3 525.0,95.7 525.3,91.4 525.7,77.6 526.0,73.7 526.3,81.3 526.7,90.5 527.0,88.2 527.3,90.0 527.6,75.3 528.0,81.6 528.3,76.6 528.6,81.5 529.0,77.5 529.3,79.7 529.6,81.6 529.9,83.3 530.3,69.8 530.6,83.4 530.9,90.9 531.3,85.3 531.6,90.6 531.9,80.9 532.2,78.5 532.6,93.0 532.9,77.9 533.2,79.4 533.5,70.2 533.9,79.8 534.2,71.2 534.5,68.6 534.9,61.6 535.2,64.7 535.5,78.5 535.8,68.4 536.2,76.4 536.5,77.7 536.8,70.3 537.2,66.0 537.5,60.5 537.8,83.8 538.1,81.9 538.5,72.6 538.8,70.5 539.1,86.4 539.4,72.4 539.8,68.7 540.1,65.7 540.4,75.4 540.8,77.2 541.1,71.2 541.4,66.1 541.7,73.1 542.1,65.8 542.4,64.8 542.7,70.0 543.1,76.1 543.4,81.0 543.7,72.4 544.0,83.3 544.4,64.2 544.7,94.2 545.0,81.3 545.4,75.2 545.7,70.9 546.0,87.1 546.3,65.1 546.7,71.6 547.0,83.1 547.3,71.4 547.6,78.3 548.0,69.5 548.3,86.8 548.6,80.3 549.0,70.9 549.3,80.1 549.6,77.6 549.9,73.7 550.3,69.2 550.6,63.0 550.9,73.5 551.3,73.7 551.6,74.5 551.9,72.8 552.2,60.4 552.6,67.5 552.9,88.6 553.2,84.4 553.6,62.5 553.9,71.0 554.2,77.2 554.5,81.5 554.9,72.9 555.2,77.8 555.5,68.5 555.8,92.2 556.2,69.8 556.5,60.7 556.8,83.8 557.2,84.5 557.5,76.9 557.8,72.2 558.1,61.5 558.5,67.1 558.8,66.4 559.1,76.8 559.5,56.5 559.8,70.8 560.1,77.8 560.4,80.4 560.8,82.4 561.1,74.9 561.4,80.9 561.7,96.7 562.1,86.1 562.4,70.5 562.7,83.8 563.1,94.1 563.4,84.9 563.7,86.2 564.0,75.8 564.4,71.6 564.7,79.8 565.0,83.7 565.4,89.9 565.7,75.4 566.0,79.5 566.3,71.6 566.7,96.9 567.0,91.3 567.3,90.6 567.7,88.4 568.0,80.4 568.3,82.3 568.6,91.5 569.0,91.0 569.3,91.2 569.6,93.7 569.9,73.8 570.3,89.3 570.6,87.2 570.9,78.1 571.3,87.9 571.6,88.0 571.9,77.1 572.2,83.1 572.6,92.2 572.9,78.6 573.2,90.0 573.6,76.6 573.9,86.0 574.2,80.7 574.5,75.5 574.9,80.4 575.2,76.7 575.5,85.6 575.8,83.3 576.2,78.3 576.5,77.5 576.8,77.8 577.2,85.5 577.5,91.3 577.8,84.4 578.1,83.4 578.5,91.9 578.8,99.1 579.1,84.9 579.5,94.8 579.8,93.9 580.1,92.3 580.4,87.1 580.8,90.7 581.1,82.2 581.4,86.1 581.8,85.2 582.1,84.5 582.4,80.6 582.7,89.8 583.1,93.8 583.4,75.9 583.7,81.2 584.0,74.5 584.4,89.3 584.7,80.0 585.0,88.5 585.4,101.8 585.7,81.3 586.0,85.1 586.3,93.8 586.7,80.4 587.0,87.1 587.3,81.5 587.7,74.3 588.0,76.1 588.3,86.1 588.6,86.9 589.0,82.8 589.3,83.8 589.6,90.6 589.9,95.8 590.3,92.3 590.6,84.4 590.9,81.0 591.3,85.7 591.6,82.7 591.9,87.5 592.2,79.7 592.6,79.5 592.9,94.4 593.2,87.8 593.6,83.2 593.9,96.5 594.2,90.9 594.5,79.8 594.9,93.9 595.2,92.8 595.5,87.7 595.9,90.0 596.2,100.0 596.5,91.1 596.8,85.4 597.2,93.9 597.5,91.4 597.8,84.5 598.1,93.2 598.5,86.9 598.8,94.4 599.1,98.0 599.5,90.3 599.8,93.2 600.1,90.3 600.4,84.4 600.8,93.8 601.1,93.8 601.4,97.5 601.8,91.2 602.1,77.9 602.4,72.4 602.7,83.0 603.1,91.0 603.4,80.6 603.7,77.0 604.0,83.0 604.4,73.7 604.7,93.6 605.0,87.6 605.4,85.0 605.7,81.5 606.0,97.1 606.3,98.7 606.7,73.6 607.0,91.6 607.3,86.2 607.7,83.3 608.0,91.5 608.3,89.9 608.6,73.9 609.0,80.4 609.3,81.1 609.6,99.2 610.0,81.6 610.3,84.6 610.6,95.1 610.9,91.3 611.3,89.2 611.6,82.0 611.9,72.6 612.2,72.6 612.6,79.6 612.9,91.8 613.2,91.9 613.6,90.8 613.9,77.6 614.2,91.5 614.5,104.3 614.9,86.9 615.2,95.6 615.5,79.3 615.9,94.5 616.2,92.7 616.5,92.5 616.8,78.5 617.2,94.7 617.5,85.4 617.8,84.0 618.1,89.0 618.5,87.2 618.8,86.9 619.1,102.6 619.5,86.0 619.8,103.5 620.1,77.2 620.4,90.5 620.8,81.8 621.1,92.7 621.4,86.2 621.8,92.3 622.1,93.8 622.4,104.1 622.7,93.8 623.1,91.9 623.4,97.3 623.7,97.5 624.1,88.8 624.4,91.9 624.7,102.9 625.0,94.0 625.4,95.2 625.7,89.4 626.0,93.6 626.3,96.2 626.7,95.1 627.0,97.4 627.3,92.7 627.7,93.6 628.0,87.9 628.3,90.4 628.6,88.0 629.0,89.1 629.3,90.5 629.6,89.0 630.0,92.4 630.3,95.6 630.6,91.4 630.9,91.2 631.3,93.0 631.6,99.7 631.9,103.1 632.2,99.9 632.6,81.2 632.9,105.1 633.2,86.4 633.6,77.8 633.9,91.0 634.2,104.7 634.5,88.6 634.9,91.3 635.2,94.4 635.5,87.7 635.9,95.1 636.2,85.5 636.5,96.1 636.8,87.5 637.2,79.6 637.5,84.4 637.8,88.0 638.2,78.3 638.5,99.2 638.8,83.8 639.1,79.7 639.5,87.7 639.8,84.9 640.1,88.5 640.4,88.4 640.8,83.0 641.1,86.4 641.4,100.4 641.8,81.4 642.1,90.8 642.4,91.6 642.7,85.5 643.1,87.2 643.4,86.3 643.7,82.6 644.1,92.1 644.4,83.4 644.7,96.1 645.0,89.2 645.4,87.6 645.7,89.3 646.0,89.7 646.3,85.7 646.7,87.7 647.0,86.1 647.3,81.6 647.7,89.0 648.0,83.5 648.3,92.8 648.6,88.1 649.0,87.3 649.3,87.4 649.6,88.5 650.0,88.6 650.3,87.7 650.6,89.6 650.9,90.4 651.3,81.5 651.6,88.9 651.9,88.4 652.3,84.7 652.6,91.0 652.9,91.7 653.2,82.9 653.6,95.7 653.9,86.6 654.2,85.3 654.5,97.6 654.9,86.5 655.2,96.0 655.5,95.8 655.9,96.6 656.2,91.0 656.5,90.9 656.8,91.4 657.2,87.4 657.5,84.8 657.8,81.5 658.2,86.0 658.5,88.8 658.8,88.0 659.1,91.7 659.5,106.8 659.8,84.2 660.1,97.7 660.4,92.2 660.8,91.7 661.1,87.5 661.4,85.0 661.8,93.4 662.1,94.4 662.4,91.0 662.7,105.6 663.1,91.3 663.4,87.0 663.7,89.2 664.1,100.2 664.4,90.5 664.7,91.6 665.0,90.0 665.4,90.8 665.7,83.8 666.0,91.6 666.4,86.9 666.7,86.2 667.0,91.1 667.3,87.2 667.7,91.6 668.0,80.6 668.3,85.8 668.6,84.7 669.0,91.9 669.3,81.2 669.6,80.9 670.0,79.3 670.3,85.6 670.6,88.5 670.9,83.5 671.3,90.5 671.6,98.5 671.9,83.7 672.3,99.9 672.6,92.2 672.9,94.2 673.2,89.8 673.6,74.1 673.9,74.3 674.2,82.3 674.5,81.0 674.9,97.6 675.2,85.1 675.5,86.0 675.9,95.8 676.2,103.1 676.5,90.1 676.8,90.0 677.2,91.7 677.5,91.7"/>
<text x="404.9" y="195.8" text-anchor="end">19.6</text>
<text x="404.9" y="171.0" text-anchor="end">19.8</text>
<text x="404.9" y="146.2" text-anchor="end">20</text>
<text x="404.9" y="121.4" text-anchor="end">20.2</text>
<text x="404.9" y="96.6" text-anchor="end">20.4</text>
<text x="404.9" y="71.8" text-anchor="end">20.6</text>
<text x="404.9" y="47.0" text-anchor="end">20.8</text>
<text x="404.9" y="22.3" text-anchor="end">21</text>
<text transform="translate(419.0 199.8) rotate(-90)" text-anchor="end" font-size="9.9" stroke-width="0.12">0</text>
<text transform="translate(432.1 199.8) rotate(-90)" text-anchor="end" font-size="9.9" stroke-width="0.12">5</text>
<text transform="translate(445.2 199.8) rotate(-90)" text-anchor="end" font-size="9.9" stroke-width="0.12">10</text>
<text transform="translate(458.3 199.8) rotate(-90)" text-anchor="end" font-size="9.9" stroke-width="0.12">15</text>
<text transform="translate(471.4 199.8) rotate(-90)" text-anchor="end" font-size="9.9" stroke-width="0.12">20</text>
<text transform="translate(484.5 199.8) rotate(-90)" text-anchor="end" font-size="9.9" stroke-width="0.12">25</text>
<text transform="translate(497.6 199.8) rotate(-90)" text-anchor="end" font-size="9.9" stroke-width="0.12">30</text>
<text transform="translate(510.7 199.8) rotate(-90)" text-anchor="end" font-size="9.9" stroke-width="0.12">35</text>
<text transform="translate(523.8 199.8) rotate(-90)" text-anchor="end" font-size="9.9" stroke-width="0.12">40</text>
<text transform="translate(536.9 199.8) rotate(-90)" text-anchor="end" font-size="9.9" stroke-width="0.12">45</text>
<text transform="translate(550.0 199.8) rotate(-90)" text-anchor="end" font-size="9.9" stroke-width="0.12">50</text>
<text transform="translate(563.1 199.8) rotate(-90)" text-anchor="end" font-size="9.9" stroke-width="0.12">55</text>
<text transform="translate(576.2 199.8) rotate(-90)" text-anchor="end" font-size="9.9" stroke-width="0.12">60</text>
<text transform="translate(589.3 199.8) rotate(-90)" text-anchor="end" font-size="9.9" stroke-width="0.12">65</text>
<text transform="translate(602.4 199.8) rotate(-90)" text-anchor="end" font-size="9.9" stroke-width="0.12">70</text>
<text transform="translate(615.5 199.8) rotate(-90)" text-anchor="end" font-size="9.9" stroke-width="0.12">75</text>
<text transform="translate(628.6 199.8) rotate(-90)" text-anchor="end" font-size="9.9" stroke-width="0.12">80</text>
<text transform="translate(641.7 199.8) rotate(-90)" text-anchor="end" font-size="9.9" stroke-width="0.12">85</text>
<text transform="translate(654.8 199.8) rotate(-90)" text-anchor="end" font-size="9.9" stroke-width="0.12">90</text>
<text transform="translate(667.9 199.8) rotate(-90)" text-anchor="end" font-size="9.9" stroke-width="0.12">95</text>
<text transform="translate(681.0 199.8) rotate(-90)" text-anchor="end" font-size="9.9" stroke-width="0.12">100</text>
<text x="547.0" y="231.0" text-anchor="middle" font-size="10" textLength="42" lengthAdjust="spacingAndGlyphs">Time (ns)</text>
<text transform="translate(378.8 105.0) rotate(-90)" text-anchor="middle" font-size="10" textLength="110" lengthAdjust="spacingAndGlyphs">Radius of Gyration (nm)</text>
<text x="355.4" y="16.0" font-size="11">(b)</text>
<path d="M219.5 449.0V274.5H491.3V449.0" fill="none" stroke="#111" stroke-width="1.1"/>
<path d="M219.5 449.0H492.3" stroke="#6a6a6a" stroke-width="1.6"/>
<polyline fill="none" stroke="#ED7D31" stroke-width="1.0" stroke-linejoin="round" points="219.5,387.9 219.8,356.1 220.2,355.3 220.5,374.1 220.9,348.7 221.2,343.7 221.5,362.8 221.9,351.8 222.2,356.8 222.6,363.3 222.9,346.3 223.2,349.8 223.6,362.4 223.9,351.3 224.3,360.8 224.6,348.6 224.9,343.8 225.3,345.0 225.6,351.0 226.0,366.2 226.3,359.6 226.6,351.4 227.0,359.7 227.3,349.8 227.7,361.1 228.0,348.6 228.3,363.7 228.7,372.9 229.0,366.4 229.4,355.9 229.7,361.8 230.0,360.9 230.4,349.6 230.7,366.1 231.1,354.0 231.4,354.8 231.7,365.3 232.1,361.0 232.4,369.8 232.8,338.4 233.1,340.3 233.4,371.0 233.8,367.8 234.1,357.2 234.5,337.3 234.8,363.6 235.1,347.2 235.5,363.7 235.8,349.9 236.2,340.7 236.5,360.4 236.8,355.6 237.2,367.1 237.5,345.9 237.9,347.8 238.2,359.0 238.5,351.4 238.9,359.7 239.2,363.2 239.6,336.9 239.9,347.2 240.3,337.6 240.6,351.4 240.9,359.1 241.3,337.8 241.6,345.8 242.0,358.5 242.3,347.2 242.6,346.4 243.0,341.7 243.3,348.1 243.7,337.3 244.0,349.5 244.3,347.0 244.7,338.0 245.0,360.3 245.4,341.7 245.7,347.2 246.0,346.7 246.4,346.9 246.7,352.2 247.1,344.0 247.4,353.5 247.7,341.2 248.1,347.7 248.4,347.6 248.8,353.8 249.1,343.3 249.4,348.6 249.8,345.2 250.1,338.9 250.5,353.8 250.8,378.5 251.1,332.3 251.5,341.5 251.8,339.4 252.2,344.4 252.5,336.3 252.8,347.7 253.2,346.6 253.5,345.9 253.9,367.1 254.2,352.0 254.5,349.8 254.9,370.5 255.2,348.8 255.6,349.3 255.9,370.9 256.2,353.1 256.6,358.6 256.9,350.2 257.3,358.0 257.6,357.5 257.9,359.3 258.3,352.7 258.6,348.1 259.0,354.9 259.3,344.8 259.6,344.1 260.0,343.4 260.3,353.2 260.7,360.1 261.0,348.9 261.3,352.3 261.7,368.3 262.0,346.2 262.4,353.3 262.7,349.0 263.0,345.2 263.4,356.8 263.7,342.6 264.1,344.5 264.4,346.7 264.7,342.8 265.1,352.2 265.4,344.9 265.8,363.5 266.1,357.5 266.4,355.4 266.8,366.1 267.1,372.4 267.5,370.4 267.8,361.9 268.1,358.7 268.5,378.5 268.8,365.5 269.2,365.3 269.5,364.0 269.8,362.5 270.2,361.7 270.5,368.9 270.9,351.1 271.2,377.3 271.5,349.1 271.9,352.1 272.2,362.1 272.6,357.0 272.9,358.1 273.2,374.9 273.6,354.1 273.9,353.0 274.3,362.8 274.6,356.4 274.9,351.4 275.3,338.4 275.6,351.5 276.0,355.8 276.3,360.8 276.6,362.3 277.0,349.4 277.3,347.1 277.7,357.5 278.0,347.6 278.4,359.8 278.7,361.2 279.0,343.9 279.4,345.6 279.7,353.4 280.1,352.4 280.4,354.7 280.7,367.1 281.1,368.3 281.4,378.5 281.8,365.7 282.1,366.1 282.4,358.5 282.8,359.3 283.1,351.7 283.5,378.3 283.8,368.1 284.1,362.7 284.5,369.0 284.8,354.9 285.2,364.1 285.5,355.0 285.8,350.9 286.2,346.5 286.5,349.4 286.9,343.5 287.2,357.3 287.5,346.8 287.9,367.4 288.2,352.9 288.6,353.9 288.9,364.3 289.2,356.3 289.6,369.7 289.9,368.1 290.3,369.4 290.6,349.1 290.9,350.6 291.3,355.5 291.6,345.1 292.0,344.5 292.3,370.3 292.6,346.1 293.0,353.4 293.3,365.4 293.7,344.0 294.0,347.5 294.3,327.3 294.7,345.2 295.0,343.4 295.4,348.3 295.7,347.4 296.0,337.0 296.4,358.1 296.7,361.9 297.1,359.8 297.4,363.8 297.7,370.6 298.1,349.9 298.4,343.1 298.8,337.2 299.1,352.2 299.4,352.0 299.8,356.3 300.1,353.8 300.5,370.1 300.8,356.7 301.1,357.6 301.5,371.7 301.8,366.5 302.2,352.4 302.5,350.5 302.8,349.8 303.2,353.2 303.5,357.7 303.9,334.8 304.2,347.2 304.5,348.7 304.9,367.8 305.2,350.4 305.6,363.4 305.9,345.2 306.2,353.5 306.6,341.2 306.9,357.5 307.3,351.7 307.6,365.1 307.9,358.5 308.3,354.3 308.6,358.3 309.0,351.9 309.3,348.5 309.6,343.2 310.0,353.0 310.3,348.7 310.7,334.3 311.0,346.0 311.3,341.1 311.7,340.7 312.0,343.8 312.4,353.8 312.7,338.6 313.0,358.6 313.4,362.8 313.7,355.8 314.1,350.8 314.4,348.2 314.7,339.0 315.1,333.3 315.4,349.8 315.8,341.2 316.1,357.2 316.4,347.4 316.8,353.0 317.1,348.3 317.5,337.8 317.8,353.6 318.2,346.6 318.5,355.3 318.8,341.9 319.2,330.9 319.5,346.7 319.9,339.8 320.2,348.7 320.5,337.7 320.9,332.1 321.2,344.8 321.6,340.6 321.9,343.9 322.2,342.3 322.6,349.1 322.9,347.3 323.3,352.3 323.6,342.8 323.9,358.4 324.3,347.2 324.6,342.4 325.0,340.6 325.3,344.9 325.6,349.5 326.0,340.3 326.3,357.3 326.7,346.3 327.0,349.8 327.3,335.2 327.7,352.3 328.0,366.8 328.4,357.3 328.7,348.1 329.0,359.3 329.4,343.4 329.7,362.9 330.1,350.9 330.4,353.5 330.7,349.4 331.1,363.0 331.4,361.0 331.8,356.4 332.1,367.4 332.4,369.5 332.8,358.8 333.1,364.7 333.5,340.1 333.8,367.0 334.1,360.6 334.5,352.4 334.8,354.8 335.2,347.6 335.5,357.7 335.8,348.9 336.2,367.3 336.5,364.2 336.9,362.6 337.2,360.8 337.5,357.0 337.9,369.3 338.2,355.8 338.6,358.1 338.9,357.9 339.2,355.9 339.6,363.2 339.9,365.2 340.3,356.9 340.6,355.3 340.9,367.1 341.3,365.1 341.6,371.0 342.0,368.1 342.3,368.4 342.6,366.3 343.0,361.1 343.3,365.4 343.7,378.4 344.0,360.8 344.3,378.4 344.7,377.5 345.0,357.9 345.4,348.7 345.7,362.2 346.0,356.8 346.4,362.7 346.7,366.4 347.1,362.3 347.4,353.3 347.7,361.8 348.1,364.9 348.4,368.5 348.8,354.8 349.1,363.7 349.4,370.0 349.8,372.8 350.1,364.8 350.5,363.2 350.8,354.1 351.1,361.7 351.5,376.1 351.8,359.6 352.2,372.0 352.5,364.9 352.8,360.0 353.2,364.7 353.5,378.3 353.9,358.3 354.2,372.3 354.5,367.7 354.9,358.9 355.2,371.0 355.6,372.7 355.9,349.7 356.3,369.5 356.6,345.8 356.9,351.0 357.3,359.1 357.6,356.7 358.0,349.5 358.3,369.0 358.6,363.0 359.0,363.6 359.3,354.6 359.7,347.3 360.0,353.9 360.3,364.1 360.7,361.8 361.0,353.8 361.4,359.1 361.7,368.6 362.0,360.4 362.4,357.0 362.7,362.9 363.1,369.9 363.4,346.6 363.7,362.0 364.1,361.5 364.4,362.1 364.8,364.1 365.1,365.5 365.4,348.2 365.8,359.1 366.1,348.3 366.5,352.0 366.8,356.7 367.1,344.6 367.5,351.6 367.8,359.3 368.2,371.5 368.5,372.6 368.8,366.8 369.2,354.2 369.5,347.7 369.9,352.7 370.2,350.3 370.5,357.1 370.9,350.4 371.2,361.0 371.6,367.0 371.9,354.7 372.2,355.3 372.6,357.8 372.9,361.3 373.3,375.5 373.6,358.6 373.9,353.2 374.3,366.3 374.6,358.0 375.0,373.5 375.3,372.3 375.6,363.1 376.0,382.0 376.3,381.9 376.7,372.9 377.0,363.7 377.3,364.2 377.7,363.6 378.0,382.3 378.4,361.4 378.7,373.9 379.0,364.4 379.4,378.0 379.7,369.5 380.1,369.8 380.4,357.7 380.7,358.8 381.1,352.1 381.4,364.5 381.8,369.9 382.1,373.1 382.4,338.0 382.8,361.2 383.1,366.1 383.5,359.4 383.8,375.0 384.1,360.8 384.5,344.3 384.8,371.5 385.2,383.3 385.5,378.1 385.8,363.7 386.2,358.6 386.5,363.7 386.9,367.8 387.2,372.0 387.5,383.2 387.9,376.7 388.2,378.3 388.6,376.7 388.9,371.0 389.2,382.3 389.6,366.8 389.9,368.0 390.3,360.2 390.6,347.2 390.9,370.1 391.3,357.1 391.6,344.1 392.0,382.0 392.3,351.9 392.6,350.8 393.0,356.5 393.3,357.9 393.7,352.7 394.0,342.9 394.4,357.2 394.7,357.4 395.0,360.4 395.4,362.8 395.7,362.9 396.1,366.7 396.4,361.1 396.7,365.0 397.1,350.8 397.4,360.4 397.8,355.5 398.1,359.1 398.4,347.5 398.8,362.1 399.1,348.7 399.5,354.9 399.8,339.1 400.1,354.7 400.5,352.4 400.8,350.9 401.2,360.6 401.5,355.0 401.8,361.0 402.2,362.0 402.5,380.7 402.9,373.2 403.2,365.0 403.5,371.0 403.9,366.3 404.2,375.1 404.6,364.9 404.9,362.2 405.2,371.5 405.6,386.3 405.9,363.5 406.3,368.1 406.6,373.1 406.9,366.9 407.3,351.9 407.6,358.0 408.0,383.5 408.3,377.6 408.6,367.6 409.0,366.3 409.3,358.3 409.7,353.8 410.0,352.7 410.3,374.4 410.7,371.0 411.0,353.3 411.4,364.9 411.7,350.0 412.0,348.5 412.4,363.0 412.7,363.5 413.1,354.6 413.4,355.6 413.7,354.1 414.1,361.3 414.4,370.7 414.8,363.4 415.1,379.0 415.4,353.8 415.8,357.8 416.1,365.1 416.5,349.8 416.8,368.4 417.1,364.6 417.5,355.5 417.8,345.1 418.2,357.2 418.5,358.7 418.8,352.1 419.2,369.9 419.5,365.1 419.9,360.2 420.2,334.9 420.5,362.7 420.9,367.0 421.2,367.2 421.6,344.5 421.9,367.1 422.2,350.6 422.6,356.3 422.9,355.6 423.3,346.2 423.6,366.0 423.9,360.4 424.3,346.7 424.6,371.9 425.0,358.2 425.3,353.6 425.6,373.5 426.0,368.9 426.3,351.9 426.7,361.0 427.0,358.7 427.3,347.3 427.7,360.7 428.0,356.5 428.4,367.0 428.7,354.2 429.0,366.7 429.4,367.5 429.7,373.4 430.1,353.7 430.4,370.1 430.7,371.8 431.1,349.4 431.4,347.9 431.8,356.9 432.1,355.6 432.4,356.7 432.8,355.6 433.1,343.7 433.5,348.2 433.8,363.9 434.2,356.3 434.5,362.7 434.8,377.7 435.2,358.3 435.5,370.7 435.9,378.0 436.2,360.1 436.5,356.0 436.9,366.1 437.2,360.3 437.6,346.5 437.9,360.8 438.2,360.4 438.6,350.4 438.9,372.3 439.3,356.8 439.6,360.7 439.9,354.9 440.3,361.0 440.6,363.1 441.0,350.9 441.3,364.6 441.6,363.7 442.0,374.4 442.3,358.8 442.7,380.7 443.0,365.0 443.3,355.8 443.7,367.9 444.0,350.9 444.4,361.3 444.7,380.5 445.0,355.1 445.4,371.1 445.7,359.5 446.1,350.2 446.4,365.4 446.7,354.8 447.1,368.9 447.4,372.8 447.8,375.3 448.1,371.6 448.4,377.2 448.8,363.1 449.1,359.4 449.5,354.5 449.8,362.7 450.1,365.0 450.5,353.8 450.8,369.8 451.2,349.1 451.5,352.9 451.8,362.5 452.2,358.7 452.5,348.4 452.9,365.2 453.2,354.2 453.5,349.0 453.9,358.4 454.2,346.2 454.6,361.5 454.9,358.1 455.2,342.3 455.6,362.0 455.9,356.6 456.3,358.8 456.6,350.6 456.9,371.9 457.3,353.5 457.6,376.4 458.0,358.2 458.3,364.2 458.6,368.1 459.0,349.4 459.3,360.4 459.7,358.5 460.0,362.9 460.3,388.0 460.7,356.3 461.0,373.8 461.4,387.9 461.7,369.2 462.0,360.2 462.4,355.9 462.7,366.8 463.1,366.5 463.4,369.0 463.7,374.7 464.1,365.8 464.4,349.5 464.8,352.4 465.1,367.8 465.4,366.5 465.8,360.8 466.1,370.6 466.5,375.3 466.8,371.0 467.1,371.7 467.5,364.1 467.8,359.2 468.2,360.9 468.5,377.6 468.8,368.8 469.2,361.4 469.5,348.5 469.9,372.9 470.2,361.3 470.5,359.6 470.9,372.2 471.2,378.5 471.6,363.2 471.9,379.2 472.3,365.7 472.6,364.8 472.9,381.5 473.3,375.9 473.6,370.2 474.0,366.7 474.3,387.6 474.6,373.6 475.0,372.4 475.3,356.5 475.7,384.1 476.0,373.2 476.3,368.1 476.7,364.7 477.0,362.6 477.4,359.0 477.7,364.8 478.0,363.5 478.4,368.6 478.7,371.4 479.1,349.2 479.4,358.1 479.7,342.7 480.1,356.7 480.4,354.4 480.8,357.4 481.1,352.4 481.4,362.3 481.8,361.1 482.1,360.5 482.5,342.9 482.8,368.2 483.1,357.6 483.5,374.7 483.8,359.1 484.2,354.7 484.5,360.7 484.8,359.7 485.2,368.5 485.5,361.1 485.9,363.3 486.2,362.3 486.5,374.3 486.9,356.8 487.2,353.3 487.6,368.9 487.9,373.7 488.2,366.5 488.6,364.9 488.9,346.0 489.3,346.2 489.6,358.4 489.9,358.1 490.3,357.7 490.6,354.0 491.0,362.9 491.3,370.9"/>
<polyline fill="none" stroke="#A5A5A5" stroke-width="1.0" stroke-linejoin="round" points="219.5,387.9 219.8,358.8 220.2,351.4 220.5,362.8 220.9,360.7 221.2,365.2 221.5,355.3 221.9,360.7 222.2,367.1 222.6,363.3 222.9,355.9 223.2,363.8 223.6,377.0 223.9,361.9 224.3,372.7 224.6,359.4 224.9,365.5 225.3,369.2 225.6,364.1 226.0,370.5 226.3,373.4 226.6,371.2 227.0,377.6 227.3,364.5 227.7,369.5 228.0,367.5 228.3,372.5 228.7,370.6 229.0,368.3 229.4,364.1 229.7,364.5 230.0,368.0 230.4,366.7 230.7,365.1 231.1,374.5 231.4,364.7 231.7,360.1 232.1,362.8 232.4,366.3 232.8,367.7 233.1,358.5 233.4,368.3 233.8,359.6 234.1,358.8 234.5,372.1 234.8,372.1 235.1,354.9 235.5,365.8 235.8,366.7 236.2,354.0 236.5,356.4 236.8,371.7 237.2,354.1 237.5,369.4 237.9,365.6 238.2,374.9 238.5,371.0 238.9,380.5 239.2,373.6 239.6,364.7 239.9,367.9 240.3,363.7 240.6,373.2 240.9,369.3 241.3,375.3 241.6,374.5 242.0,363.5 242.3,367.1 242.6,367.8 243.0,379.0 243.3,383.3 243.7,378.2 244.0,372.6 244.3,372.6 244.7,375.4 245.0,375.3 245.4,369.1 245.7,362.9 246.0,370.1 246.4,366.3 246.7,368.5 247.1,363.8 247.4,379.3 247.7,370.6 248.1,374.8 248.4,373.9 248.8,373.1 249.1,366.1 249.4,366.1 249.8,368.3 250.1,369.0 250.5,375.9 250.8,379.4 251.1,369.6 251.5,352.6 251.8,373.5 252.2,370.8 252.5,381.0 252.8,372.5 253.2,371.0 253.5,355.6 253.9,368.8 254.2,365.1 254.5,370.9 254.9,370.5 255.2,373.2 255.6,371.8 255.9,362.4 256.2,364.4 256.6,377.2 256.9,369.3 257.3,370.8 257.6,375.9 257.9,373.2 258.3,376.6 258.6,375.1 259.0,374.3 259.3,370.4 259.6,372.9 260.0,370.7 260.3,371.5 260.7,384.8 261.0,384.8 261.3,373.5 261.7,363.6 262.0,369.6 262.4,367.2 262.7,369.3 263.0,356.0 263.4,365.8 263.7,358.2 264.1,363.0 264.4,373.7 264.7,368.7 265.1,372.1 265.4,368.3 265.8,372.3 266.1,375.2 266.4,363.0 266.8,372.4 267.1,370.3 267.5,366.9 267.8,354.0 268.1,385.5 268.5,366.9 268.8,360.1 269.2,362.9 269.5,354.6 269.8,384.1 270.2,361.7 270.5,359.4 270.9,371.3 271.2,376.6 271.5,365.1 271.9,370.7 272.2,376.2 272.6,360.8 272.9,369.7 273.2,361.2 273.6,357.4 273.9,373.9 274.3,346.1 274.6,362.0 274.9,360.1 275.3,371.4 275.6,360.0 276.0,365.5 276.3,369.4 276.6,369.9 277.0,364.4 277.3,373.2 277.7,353.8 278.0,369.0 278.4,360.6 278.7,364.9 279.0,367.3 279.4,371.3 279.7,355.8 280.1,349.8 280.4,367.6 280.7,363.2 281.1,353.3 281.4,356.0 281.8,355.3 282.1,364.9 282.4,367.2 282.8,358.1 283.1,353.7 283.5,355.1 283.8,354.2 284.1,342.3 284.5,356.3 284.8,362.7 285.2,369.6 285.5,349.1 285.8,351.1 286.2,345.8 286.5,349.6 286.9,349.3 287.2,371.9 287.5,360.9 287.9,368.1 288.2,354.9 288.6,362.8 288.9,345.4 289.2,345.2 289.6,341.4 289.9,346.6 290.3,359.5 290.6,362.4 290.9,351.2 291.3,342.9 291.6,356.7 292.0,365.5 292.3,358.8 292.6,348.0 293.0,357.7 293.3,361.4 293.7,350.8 294.0,369.8 294.3,348.2 294.7,367.8 295.0,354.6 295.4,364.7 295.7,344.7 296.0,363.0 296.4,354.0 296.7,358.5 297.1,350.2 297.4,355.3 297.7,363.6 298.1,349.2 298.4,347.6 298.8,350.2 299.1,364.6 299.4,357.6 299.8,354.4 300.1,355.1 300.5,355.6 300.8,363.7 301.1,352.7 301.5,351.3 301.8,366.3 302.2,355.1 302.5,347.1 302.8,368.8 303.2,361.2 303.5,364.2 303.9,363.6 304.2,359.3 304.5,347.7 304.9,373.2 305.2,376.9 305.6,359.4 305.9,378.3 306.2,354.3 306.6,352.5 306.9,349.1 307.3,355.9 307.6,351.6 307.9,364.4 308.3,363.7 308.6,368.1 309.0,347.9 309.3,360.7 309.6,347.2 310.0,356.7 310.3,370.2 310.7,365.2 311.0,361.4 311.3,354.4 311.7,356.5 312.0,370.3 312.4,357.4 312.7,364.8 313.0,363.1 313.4,357.2 313.7,363.5 314.1,360.0 314.4,352.5 314.7,362.8 315.1,353.6 315.4,360.7 315.8,355.2 316.1,354.6 316.4,359.6 316.8,373.9 317.1,352.8 317.5,358.9 317.8,353.4 318.2,361.6 318.5,372.2 318.8,374.8 319.2,367.7 319.5,369.0 319.9,361.2 320.2,363.5 320.5,368.3 320.9,370.2 321.2,356.2 321.6,346.6 321.9,365.8 322.2,350.0 322.6,345.5 322.9,364.7 323.3,363.7 323.6,360.0 323.9,349.2 324.3,374.4 324.6,350.0 325.0,364.4 325.3,357.4 325.6,359.2 326.0,364.7 326.3,363.8 326.7,348.0 327.0,364.4 327.3,359.5 327.7,366.8 328.0,362.2 328.4,353.0 328.7,350.1 329.0,354.5 329.4,349.5 329.7,370.0 330.1,374.7 330.4,359.7 330.7,363.6 331.1,363.5 331.4,349.8 331.8,355.5 332.1,369.0 332.4,369.6 332.8,351.7 333.1,360.3 333.5,364.1 333.8,361.5 334.1,360.4 334.5,358.7 334.8,359.3 335.2,370.3 335.5,356.2 335.8,351.3 336.2,369.7 336.5,360.4 336.9,358.0 337.2,364.0 337.5,350.4 337.9,359.3 338.2,366.0 338.6,377.3 338.9,366.7 339.2,351.3 339.6,359.7 339.9,364.2 340.3,366.4 340.6,355.9 340.9,361.4 341.3,370.4 341.6,345.7 342.0,368.6 342.3,366.7 342.6,354.2 343.0,348.3 343.3,355.7 343.7,351.0 344.0,354.1 344.3,342.6 344.7,351.8 345.0,344.7 345.4,362.1 345.7,358.2 346.0,348.9 346.4,358.1 346.7,358.4 347.1,356.2 347.4,365.9 347.7,354.4 348.1,370.0 348.4,351.3 348.8,359.1 349.1,351.0 349.4,363.5 349.8,353.7 350.1,346.5 350.5,354.6 350.8,367.0 351.1,345.6 351.5,357.0 351.8,358.2 352.2,357.3 352.5,358.6 352.8,353.0 353.2,351.5 353.5,346.1 353.9,355.5 354.2,356.3 354.5,353.4 354.9,352.3 355.2,364.8 355.6,366.6 355.9,354.7 356.3,369.3 356.6,369.7 356.9,359.8 357.3,353.3 357.6,361.5 358.0,345.1 358.3,346.1 358.6,352.1 359.0,351.6 359.3,357.6 359.7,353.4 360.0,359.3 360.3,348.2 360.7,344.0 361.0,360.7 361.4,355.2 361.7,368.7 362.0,357.4 362.4,355.8 362.7,373.8 363.1,356.6 363.4,361.6 363.7,363.2 364.1,368.8 364.4,361.4 364.8,348.5 365.1,350.1 365.4,362.8 365.8,347.0 366.1,357.6 366.5,358.8 366.8,352.5 367.1,345.8 367.5,360.9 367.8,357.2 368.2,350.9 368.5,355.4 368.8,347.1 369.2,348.0 369.5,372.1 369.9,345.9 370.2,350.8 370.5,349.3 370.9,357.4 371.2,355.1 371.6,360.1 371.9,359.7 372.2,342.1 372.6,357.7 372.9,347.5 373.3,363.5 373.6,342.9 373.9,352.1 374.3,351.8 374.6,352.5 375.0,372.7 375.3,360.4 375.6,375.6 376.0,366.4 376.3,366.3 376.7,359.4 377.0,355.2 377.3,357.4 377.7,372.8 378.0,370.9 378.4,354.5 378.7,351.3 379.0,361.9 379.4,357.8 379.7,357.2 380.1,356.9 380.4,339.7 380.7,358.0 381.1,356.0 381.4,360.6 381.8,350.7 382.1,363.2 382.4,365.5 382.8,360.3 383.1,357.2 383.5,352.6 383.8,364.7 384.1,364.5 384.5,368.5 384.8,365.4 385.2,363.0 385.5,365.7 385.8,356.6 386.2,355.7 386.5,363.3 386.9,366.5 387.2,366.2 387.5,354.7 387.9,355.5 388.2,358.6 388.6,363.0 388.9,368.3 389.2,369.9 389.6,361.3 389.9,366.2 390.3,363.7 390.6,367.0 390.9,373.5 391.3,373.1 391.6,367.4 392.0,355.5 392.3,366.1 392.6,366.3 393.0,357.8 393.3,367.5 393.7,363.6 394.0,365.5 394.4,360.5 394.7,364.7 395.0,356.9 395.4,345.1 395.7,351.8 396.1,371.3 396.4,360.4 396.7,370.4 397.1,347.3 397.4,365.4 397.8,354.8 398.1,372.4 398.4,360.9 398.8,367.1 399.1,372.5 399.5,354.0 399.8,358.0 400.1,363.1 400.5,348.4 400.8,356.6 401.2,361.2 401.5,354.8 401.8,347.2 402.2,348.4 402.5,354.3 402.9,351.0 403.2,337.1 403.5,353.7 403.9,357.8 404.2,343.4 404.6,347.8 404.9,363.7 405.2,356.8 405.6,351.8 405.9,358.1 406.3,346.7 406.6,357.6 406.9,364.0 407.3,361.3 407.6,375.7 408.0,363.1 408.3,366.2 408.6,370.2 409.0,359.0 409.3,359.8 409.7,341.8 410.0,362.6 410.3,358.9 410.7,358.4 411.0,349.2 411.4,349.6 411.7,361.9 412.0,351.2 412.4,359.0 412.7,356.5 413.1,354.4 413.4,367.6 413.7,361.5 414.1,370.2 414.4,374.5 414.8,377.2 415.1,358.2 415.4,359.5 415.8,371.3 416.1,374.3 416.5,364.1 416.8,368.5 417.1,366.2 417.5,375.2 417.8,376.7 418.2,361.0 418.5,351.9 418.8,358.3 419.2,352.4 419.5,359.8 419.9,349.6 420.2,355.8 420.5,349.8 420.9,351.6 421.2,377.4 421.6,369.4 421.9,360.0 422.2,368.0 422.6,371.4 422.9,358.0 423.3,357.5 423.6,350.5 423.9,353.6 424.3,354.0 424.6,359.0 425.0,360.0 425.3,377.2 425.6,367.4 426.0,348.4 426.3,368.1 426.7,366.0 427.0,347.7 427.3,341.8 427.7,350.0 428.0,352.6 428.4,364.6 428.7,356.3 429.0,359.6 429.4,344.0 429.7,360.9 430.1,346.5 430.4,352.8 430.7,353.5 431.1,353.0 431.4,362.9 431.8,368.3 432.1,365.8 432.4,354.3 432.8,354.4 433.1,346.8 433.5,356.2 433.8,357.5 434.2,368.9 434.5,356.2 434.8,364.4 435.2,357.2 435.5,360.8 435.9,352.0 436.2,369.8 436.5,356.7 436.9,375.6 437.2,350.0 437.6,368.7 437.9,375.3 438.2,352.1 438.6,346.0 438.9,340.4 439.3,347.0 439.6,353.8 439.9,366.1 440.3,360.5 440.6,372.7 441.0,363.1 441.3,359.1 441.6,359.9 442.0,370.4 442.3,375.3 442.7,354.7 443.0,363.4 443.3,361.5 443.7,351.8 444.0,380.7 444.4,355.3 444.7,357.0 445.0,362.2 445.4,373.9 445.7,369.2 446.1,366.9 446.4,380.8 446.7,367.8 447.1,361.1 447.4,368.5 447.8,365.4 448.1,359.2 448.4,365.0 448.8,357.7 449.1,357.2 449.5,367.4 449.8,378.7 450.1,359.9 450.5,374.3 450.8,363.2 451.2,362.3 451.5,371.1 451.8,356.1 452.2,359.0 452.5,370.9 452.9,359.4 453.2,363.2 453.5,362.9 453.9,348.9 454.2,356.5 454.6,360.7 454.9,357.1 455.2,365.9 455.6,364.0 455.9,359.1 456.3,362.9 456.6,381.5 456.9,358.6 457.3,380.9 457.6,363.8 458.0,363.6 458.3,361.6 458.6,362.3 459.0,361.5 459.3,360.4 459.7,362.0 460.0,361.7 460.3,370.0 460.7,363.8 461.0,369.4 461.4,368.7 461.7,344.4 462.0,373.3 462.4,369.3 462.7,363.6 463.1,353.4 463.4,363.4 463.7,375.1 464.1,376.1 464.4,367.5 464.8,369.5 465.1,356.3 465.4,346.7 465.8,363.9 466.1,369.0 466.5,378.3 466.8,342.0 467.1,346.5 467.5,364.7 467.8,372.5 468.2,351.6 468.5,354.3 468.8,347.6 469.2,378.3 469.5,348.4 469.9,346.9 470.2,353.4 470.5,344.7 470.9,348.5 471.2,361.7 471.6,350.0 471.9,356.4 472.3,358.0 472.6,354.5 472.9,367.9 473.3,349.5 473.6,349.3 474.0,374.6 474.3,347.7 474.6,353.3 475.0,337.9 475.3,364.6 475.7,360.2 476.0,367.1 476.3,370.7 476.7,375.6 477.0,363.7 477.4,382.2 477.7,371.9 478.0,367.8 478.4,376.1 478.7,362.2 479.1,369.5 479.4,354.2 479.7,362.2 480.1,376.8 480.4,363.2 480.8,377.4 481.1,361.0 481.4,360.5 481.8,383.1 482.1,359.3 482.5,360.4 482.8,371.5 483.1,362.5 483.5,374.4 483.8,350.2 484.2,365.3 484.5,360.1 484.8,360.3 485.2,364.5 485.5,369.8 485.9,355.5 486.2,377.0 486.5,382.5 486.9,368.2 487.2,366.1 487.6,348.1 487.9,347.8 488.2,357.6 488.6,383.5 488.9,361.4 489.3,360.2 489.6,342.6 489.9,347.6 490.3,370.5 490.6,345.4 491.0,363.5 491.3,367.2"/>
<polyline fill="none" stroke="#FFC000" stroke-width="1.0" stroke-linejoin="round" points="219.5,387.9 219.8,327.0 220.2,306.5 220.5,323.8 220.9,340.2 221.2,335.0 221.5,333.9 221.9,360.7 222.2,358.6 222.6,350.1 222.9,335.8 223.2,326.0 223.6,341.2 223.9,338.5 224.3,320.7 224.6,311.3 224.9,324.3 225.3,335.2 225.6,340.0 226.0,331.5 226.3,351.0 226.6,351.4 227.0,338.8 227.3,335.7 227.7,319.7 228.0,323.5 228.3,343.2 228.7,322.0 229.0,344.7 229.4,348.9 229.7,335.6 230.0,334.5 230.4,338.5 230.7,342.7 231.1,321.5 231.4,350.0 231.7,336.8 232.1,326.1 232.4,335.3 232.8,324.2 233.1,324.4 233.4,339.1 233.8,339.7 234.1,337.1 234.5,324.2 234.8,320.5 235.1,319.1 235.5,330.7 235.8,342.1 236.2,317.8 236.5,324.6 236.8,314.1 237.2,336.7 237.5,351.9 237.9,344.1 238.2,319.9 238.5,362.7 238.9,315.3 239.2,327.1 239.6,339.5 239.9,339.4 240.3,329.2 240.6,307.8 240.9,327.0 241.3,334.4 241.6,348.8 242.0,343.7 242.3,338.5 242.6,353.2 243.0,333.4 243.3,297.6 243.7,338.2 244.0,329.1 244.3,335.2 244.7,342.7 245.0,318.4 245.4,334.9 245.7,342.2 246.0,346.3 246.4,334.0 246.7,342.1 247.1,312.5 247.4,346.0 247.7,335.8 248.1,363.9 248.4,324.4 248.8,353.6 249.1,327.1 249.4,335.7 249.8,338.7 250.1,348.8 250.5,329.2 250.8,342.7 251.1,363.9 251.5,338.0 251.8,307.4 252.2,348.1 252.5,340.8 252.8,332.5 253.2,343.2 253.5,327.3 253.9,340.0 254.2,344.6 254.5,332.9 254.9,311.3 255.2,336.4 255.6,355.3 255.9,320.9 256.2,341.1 256.6,317.1 256.9,351.0 257.3,325.6 257.6,335.9 257.9,311.4 258.3,336.8 258.6,311.8 259.0,329.1 259.3,328.7 259.6,342.4 260.0,353.9 260.3,343.0 260.7,316.0 261.0,355.8 261.3,324.8 261.7,323.3 262.0,340.5 262.4,331.3 262.7,323.9 263.0,312.0 263.4,322.8 263.7,336.7 264.1,331.7 264.4,347.6 264.7,321.4 265.1,318.8 265.4,326.6 265.8,321.9 266.1,354.0 266.4,317.3 266.8,325.9 267.1,318.9 267.5,303.9 267.8,310.7 268.1,333.1 268.5,288.0 268.8,320.5 269.2,338.3 269.5,327.3 269.8,320.0 270.2,336.8 270.5,333.2 270.9,362.4 271.2,341.3 271.5,343.6 271.9,356.0 272.2,362.7 272.6,318.1 272.9,329.8 273.2,333.5 273.6,309.6 273.9,328.0 274.3,292.6 274.6,323.6 274.9,325.2 275.3,300.2 275.6,310.0 276.0,332.5 276.3,333.0 276.6,292.2 277.0,308.9 277.3,322.8 277.7,314.6 278.0,322.1 278.4,322.3 278.7,313.9 279.0,342.8 279.4,342.9 279.7,319.1 280.1,329.5 280.4,348.4 280.7,336.4 281.1,316.7 281.4,319.5 281.8,345.1 282.1,319.4 282.4,347.6 282.8,339.4 283.1,339.1 283.5,323.9 283.8,323.6 284.1,331.1 284.5,327.7 284.8,327.2 285.2,336.3 285.5,319.5 285.8,334.1 286.2,331.0 286.5,322.1 286.9,330.1 287.2,328.5 287.5,339.7 287.9,314.4 288.2,320.5 288.6,334.7 288.9,348.8 289.2,336.4 289.6,329.6 289.9,334.1 290.3,327.6 290.6,335.6 290.9,323.3 291.3,322.4 291.6,322.2 292.0,321.9 292.3,338.1 292.6,329.3 293.0,336.3 293.3,313.2 293.7,307.7 294.0,314.3 294.3,332.5 294.7,331.0 295.0,311.2 295.4,325.3 295.7,337.8 296.0,344.4 296.4,341.6 296.7,335.4 297.1,350.1 297.4,313.7 297.7,341.6 298.1,333.4 298.4,328.4 298.8,342.9 299.1,325.4 299.4,326.0 299.8,342.3 300.1,336.8 300.5,304.7 300.8,326.0 301.1,313.6 301.5,346.7 301.8,330.0 302.2,337.4 302.5,337.3 302.8,333.7 303.2,348.7 303.5,330.2 303.9,324.6 304.2,345.8 304.5,340.8 304.9,341.8 305.2,309.1 305.6,354.7 305.9,339.8 306.2,337.5 306.6,340.1 306.9,337.2 307.3,331.8 307.6,350.1 307.9,344.9 308.3,359.9 308.6,350.8 309.0,352.8 309.3,356.0 309.6,345.2 310.0,353.0 310.3,352.0 310.7,336.8 311.0,328.7 311.3,334.2 311.7,325.1 312.0,346.1 312.4,323.4 312.7,346.2 313.0,339.9 313.4,334.6 313.7,348.2 314.1,343.3 314.4,349.4 314.7,337.2 315.1,341.6 315.4,334.1 315.8,335.3 316.1,342.2 316.4,332.3 316.8,325.7 317.1,318.4 317.5,321.8 317.8,331.4 318.2,329.6 318.5,310.5 318.8,319.3 319.2,333.2 319.5,332.8 319.9,314.8 320.2,324.4 320.5,329.7 320.9,314.9 321.2,330.0 321.6,313.3 321.9,308.6 322.2,332.6 322.6,313.7 322.9,305.0 323.3,322.4 323.6,346.9 323.9,322.0 324.3,309.3 324.6,323.4 325.0,320.8 325.3,325.3 325.6,337.2 326.0,337.2 326.3,325.1 326.7,321.6 327.0,331.9 327.3,319.4 327.7,335.0 328.0,320.6 328.4,325.9 328.7,333.2 329.0,339.4 329.4,330.0 329.7,319.3 330.1,350.4 330.4,335.0 330.7,324.6 331.1,343.2 331.4,345.9 331.8,333.3 332.1,325.2 332.4,344.9 332.8,316.5 333.1,343.2 333.5,334.8 333.8,334.0 334.1,339.6 334.5,331.0 334.8,337.9 335.2,335.0 335.5,329.7 335.8,332.2 336.2,333.0 336.5,354.9 336.9,343.1 337.2,329.4 337.5,331.8 337.9,336.2 338.2,326.3 338.6,328.3 338.9,339.7 339.2,335.9 339.6,338.1 339.9,342.2 340.3,341.6 340.6,352.3 340.9,346.5 341.3,345.5 341.6,344.9 342.0,357.2 342.3,342.2 342.6,352.3 343.0,349.4 343.3,356.5 343.7,342.6 344.0,364.9 344.3,350.4 344.7,343.2 345.0,333.0 345.4,342.8 345.7,342.4 346.0,344.6 346.4,348.8 346.7,336.8 347.1,336.5 347.4,328.8 347.7,338.8 348.1,340.6 348.4,342.0 348.8,333.8 349.1,357.5 349.4,364.5 349.8,353.5 350.1,351.5 350.5,325.9 350.8,351.6 351.1,348.0 351.5,338.9 351.8,341.5 352.2,331.0 352.5,343.0 352.8,350.3 353.2,346.8 353.5,329.2 353.9,332.0 354.2,329.5 354.5,328.6 354.9,335.3 355.2,355.2 355.6,342.5 355.9,344.3 356.3,348.5 356.6,337.4 356.9,316.2 357.3,338.3 357.6,341.5 358.0,341.6 358.3,329.5 358.6,329.6 359.0,336.7 359.3,324.6 359.7,317.5 360.0,322.8 360.3,350.3 360.7,334.7 361.0,334.0 361.4,336.8 361.7,331.8 362.0,342.9 362.4,346.3 362.7,344.7 363.1,346.1 363.4,343.8 363.7,331.5 364.1,329.1 364.4,322.5 364.8,336.6 365.1,347.5 365.4,348.9 365.8,331.0 366.1,334.4 366.5,325.8 366.8,329.5 367.1,341.3 367.5,339.3 367.8,354.7 368.2,343.4 368.5,344.6 368.8,346.3 369.2,324.7 369.5,343.3 369.9,350.2 370.2,362.5 370.5,349.2 370.9,353.1 371.2,335.7 371.6,352.9 371.9,352.0 372.2,339.2 372.6,341.5 372.9,354.9 373.3,350.6 373.6,344.5 373.9,336.7 374.3,338.3 374.6,344.2 375.0,364.9 375.3,341.8 375.6,338.7 376.0,330.9 376.3,349.1 376.7,351.0 377.0,353.9 377.3,358.4 377.7,328.3 378.0,334.2 378.4,336.8 378.7,334.7 379.0,352.5 379.4,347.1 379.7,322.6 380.1,333.5 380.4,338.5 380.7,325.9 381.1,333.4 381.4,337.4 381.8,341.4 382.1,331.3 382.4,331.5 382.8,345.6 383.1,347.6 383.5,339.2 383.8,339.3 384.1,333.5 384.5,322.5 384.8,340.2 385.2,343.3 385.5,337.9 385.8,332.5 386.2,331.1 386.5,342.5 386.9,331.1 387.2,345.3 387.5,327.0 387.9,332.4 388.2,353.8 388.6,337.2 388.9,350.4 389.2,356.7 389.6,349.7 389.9,351.4 390.3,347.8 390.6,332.4 390.9,337.1 391.3,323.9 391.6,317.8 392.0,318.2 392.3,335.2 392.6,319.3 393.0,347.1 393.3,346.3 393.7,326.9 394.0,330.9 394.4,328.8 394.7,330.5 395.0,327.6 395.4,339.6 395.7,334.3 396.1,329.0 396.4,327.9 396.7,327.4 397.1,355.0 397.4,328.6 397.8,344.9 398.1,332.6 398.4,335.8 398.8,341.4 399.1,344.4 399.5,341.2 399.8,318.4 400.1,336.1 400.5,342.4 400.8,332.8 401.2,340.6 401.5,344.8 401.8,347.8 402.2,346.7 402.5,335.1 402.9,359.2 403.2,331.2 403.5,344.7 403.9,321.3 404.2,323.6 404.6,332.0 404.9,347.8 405.2,331.4 405.6,329.4 405.9,311.8 406.3,340.2 406.6,335.6 406.9,334.1 407.3,341.1 407.6,340.0 408.0,332.8 408.3,341.9 408.6,337.1 409.0,335.3 409.3,321.5 409.7,329.1 410.0,345.2 410.3,305.5 410.7,319.4 411.0,313.9 411.4,328.6 411.7,329.9 412.0,338.0 412.4,333.5 412.7,344.6 413.1,315.4 413.4,322.3 413.7,321.2 414.1,311.8 414.4,324.2 414.8,337.6 415.1,340.7 415.4,325.5 415.8,335.4 416.1,319.5 416.5,350.9 416.8,315.9 417.1,329.5 417.5,317.9 417.8,316.0 418.2,322.3 418.5,333.1 418.8,328.2 419.2,313.5 419.5,313.3 419.9,316.2 420.2,302.7 420.5,314.4 420.9,316.8 421.2,319.2 421.6,315.0 421.9,315.1 422.2,327.7 422.6,331.9 422.9,321.2 423.3,328.6 423.6,324.3 423.9,317.2 424.3,326.4 424.6,330.6 425.0,310.7 425.3,319.2 425.6,339.9 426.0,307.8 426.3,324.9 426.7,308.8 427.0,329.5 427.3,328.2 427.7,329.3 428.0,313.6 428.4,319.4 428.7,309.4 429.0,326.9 429.4,340.0 429.7,326.2 430.1,316.2 430.4,316.5 430.7,337.7 431.1,326.3 431.4,333.7 431.8,331.4 432.1,338.1 432.4,329.4 432.8,327.8 433.1,314.8 433.5,318.5 433.8,336.5 434.2,331.8 434.5,321.7 434.8,321.6 435.2,325.4 435.5,318.1 435.9,330.5 436.2,315.0 436.5,320.4 436.9,328.6 437.2,336.8 437.6,332.0 437.9,333.5 438.2,326.1 438.6,344.5 438.9,329.3 439.3,320.5 439.6,342.3 439.9,344.3 440.3,323.7 440.6,339.1 441.0,338.7 441.3,332.5 441.6,331.2 442.0,316.8 442.3,320.1 442.7,319.4 443.0,319.4 443.3,334.9 443.7,329.6 444.0,326.4 444.4,333.8 444.7,318.1 445.0,330.0 445.4,331.1 445.7,350.2 446.1,341.1 446.4,338.7 446.7,350.3 447.1,338.2 447.4,340.4 447.8,346.4 448.1,324.7 448.4,328.2 448.8,348.3 449.1,350.9 449.5,325.7 449.8,348.2 450.1,336.5 450.5,342.5 450.8,351.5 451.2,327.8 451.5,346.6 451.8,338.3 452.2,329.3 452.5,341.2 452.9,342.6 453.2,340.5 453.5,341.5 453.9,330.0 454.2,338.0 454.6,333.5 454.9,344.1 455.2,335.1 455.6,332.4 455.9,338.1 456.3,329.8 456.6,320.8 456.9,333.8 457.3,342.5 457.6,328.2 458.0,338.8 458.3,332.1 458.6,337.5 459.0,335.6 459.3,328.0 459.7,333.6 460.0,329.3 460.3,315.2 460.7,336.4 461.0,322.1 461.4,325.5 461.7,346.9 462.0,328.7 462.4,333.5 462.7,339.5 463.1,336.2 463.4,327.2 463.7,344.7 464.1,322.2 464.4,327.8 464.8,320.4 465.1,342.9 465.4,328.9 465.8,345.9 466.1,327.9 466.5,325.5 466.8,344.6 467.1,343.9 467.5,341.4 467.8,327.2 468.2,348.4 468.5,352.4 468.8,337.7 469.2,335.4 469.5,347.9 469.9,337.1 470.2,337.4 470.5,314.4 470.9,332.0 471.2,346.0 471.6,344.5 471.9,343.6 472.3,346.4 472.6,348.8 472.9,335.1 473.3,337.8 473.6,345.5 474.0,335.9 474.3,337.8 474.6,330.0 475.0,345.5 475.3,323.4 475.7,321.4 476.0,326.6 476.3,313.1 476.7,305.7 477.0,319.8 477.4,328.5 477.7,327.5 478.0,326.4 478.4,327.0 478.7,333.2 479.1,326.6 479.4,325.5 479.7,333.8 480.1,324.0 480.4,319.8 480.8,331.0 481.1,318.8 481.4,343.3 481.8,323.4 482.1,315.9 482.5,330.0 482.8,343.3 483.1,309.4 483.5,343.1 483.8,338.6 484.2,330.5 484.5,313.6 484.8,320.8 485.2,326.1 485.5,354.0 485.9,325.8 486.2,334.7 486.5,330.4 486.9,325.9 487.2,330.0 487.6,331.4 487.9,314.8 488.2,341.2 488.6,326.0 488.9,326.1 489.3,335.3 489.6,341.8 489.9,325.0 490.3,326.7 490.6,316.1 491.0,313.2 491.3,313.1"/>
<polyline fill="none" stroke="#5B9BD5" stroke-width="1.0" stroke-linejoin="round" points="219.5,387.9 219.8,320.5 220.2,311.5 220.5,316.3 220.9,311.2 221.2,307.5 221.5,318.4 221.9,311.6 222.2,325.6 222.6,315.2 222.9,318.8 223.2,325.4 223.6,320.0 223.9,312.1 224.3,314.6 224.6,327.3 224.9,326.4 225.3,326.1 225.6,323.3 226.0,320.0 226.3,322.3 226.6,332.4 227.0,325.2 227.3,316.8 227.7,325.5 228.0,331.3 228.3,338.8 228.7,319.3 229.0,330.9 229.4,325.4 229.7,326.8 230.0,338.2 230.4,331.1 230.7,328.0 231.1,332.5 231.4,330.8 231.7,336.9 232.1,329.2 232.4,329.4 232.8,332.3 233.1,341.6 233.4,337.9 233.8,326.7 234.1,326.3 234.5,327.2 234.8,337.4 235.1,328.7 235.5,326.6 235.8,325.4 236.2,328.3 236.5,335.3 236.8,322.4 237.2,321.8 237.5,328.7 237.9,313.8 238.2,318.0 238.5,331.9 238.9,329.3 239.2,316.2 239.6,326.5 239.9,329.1 240.3,334.4 240.6,311.8 240.9,311.3 241.3,316.5 241.6,325.5 242.0,303.2 242.3,314.7 242.6,301.4 243.0,314.9 243.3,314.7 243.7,322.6 244.0,320.0 244.3,304.9 244.7,298.2 245.0,305.8 245.4,312.3 245.7,318.1 246.0,309.5 246.4,309.4 246.7,313.7 247.1,337.1 247.4,304.4 247.7,313.6 248.1,310.8 248.4,292.4 248.8,326.0 249.1,320.1 249.4,318.0 249.8,326.0 250.1,326.2 250.5,305.1 250.8,315.0 251.1,316.7 251.5,312.3 251.8,302.4 252.2,327.1 252.5,311.6 252.8,313.9 253.2,304.8 253.5,310.6 253.9,318.1 254.2,311.2 254.5,301.4 254.9,298.5 255.2,327.3 255.6,318.3 255.9,325.4 256.2,309.0 256.6,313.5 256.9,325.4 257.3,323.8 257.6,323.0 257.9,320.1 258.3,307.7 258.6,309.8 259.0,316.6 259.3,326.8 259.6,308.6 260.0,309.9 260.3,295.9 260.7,305.5 261.0,315.2 261.3,327.9 261.7,339.6 262.0,320.5 262.4,318.8 262.7,315.6 263.0,319.2 263.4,324.2 263.7,306.2 264.1,332.2 264.4,309.8 264.7,327.8 265.1,298.7 265.4,310.7 265.8,294.1 266.1,304.6 266.4,315.8 266.8,293.9 267.1,316.6 267.5,318.9 267.8,313.1 268.1,308.9 268.5,322.9 268.8,304.6 269.2,313.4 269.5,318.5 269.8,312.3 270.2,327.2 270.5,304.3 270.9,307.1 271.2,295.9 271.5,317.5 271.9,308.9 272.2,315.6 272.6,317.7 272.9,311.7 273.2,303.1 273.6,323.4 273.9,296.3 274.3,336.6 274.6,316.6 274.9,321.6 275.3,302.3 275.6,309.7 276.0,332.5 276.3,323.6 276.6,326.8 277.0,316.3 277.3,313.7 277.7,322.3 278.0,315.9 278.4,314.1 278.7,313.2 279.0,314.1 279.4,303.7 279.7,308.5 280.1,318.1 280.4,316.7 280.7,318.2 281.1,298.9 281.4,307.7 281.8,321.1 282.1,313.6 282.4,305.1 282.8,335.3 283.1,315.3 283.5,318.2 283.8,312.9 284.1,307.6 284.5,324.4 284.8,311.5 285.2,307.8 285.5,314.6 285.8,322.8 286.2,328.5 286.5,318.0 286.9,318.5 287.2,311.3 287.5,309.1 287.9,319.5 288.2,319.2 288.6,323.9 288.9,316.7 289.2,314.3 289.6,315.4 289.9,316.1 290.3,317.6 290.6,314.2 290.9,319.8 291.3,303.3 291.6,306.1 292.0,307.4 292.3,305.3 292.6,310.5 293.0,294.6 293.3,303.4 293.7,307.4 294.0,295.4 294.3,296.7 294.7,309.9 295.0,281.6 295.4,290.6 295.7,296.2 296.0,296.5 296.4,286.3 296.7,293.0 297.1,297.4 297.4,298.6 297.7,304.0 298.1,282.4 298.4,285.4 298.8,297.0 299.1,299.6 299.4,292.4 299.8,289.9 300.1,301.4 300.5,315.0 300.8,322.6 301.1,309.8 301.5,314.3 301.8,303.8 302.2,307.5 302.5,287.6 302.8,304.1 303.2,307.1 303.5,305.8 303.9,298.6 304.2,314.1 304.5,321.8 304.9,307.9 305.2,320.8 305.6,300.9 305.9,314.2 306.2,332.7 306.6,310.2 306.9,319.6 307.3,317.8 307.6,326.7 307.9,314.1 308.3,308.9 308.6,324.8 309.0,312.4 309.3,317.5 309.6,316.0 310.0,318.5 310.3,318.2 310.7,339.4 311.0,333.9 311.3,327.7 311.7,347.6 312.0,336.7 312.4,311.9 312.7,335.7 313.0,325.8 313.4,330.4 313.7,344.3 314.1,337.1 314.4,337.4 314.7,334.6 315.1,342.7 315.4,338.4 315.8,327.8 316.1,338.8 316.4,339.7 316.8,335.4 317.1,340.6 317.5,334.4 317.8,339.6 318.2,355.8 318.5,341.9 318.8,344.0 319.2,341.9 319.5,335.9 319.9,344.9 320.2,331.6 320.5,329.3 320.9,333.5 321.2,318.2 321.6,326.8 321.9,334.4 322.2,329.1 322.6,322.5 322.9,331.9 323.3,325.7 323.6,325.5 323.9,322.3 324.3,323.9 324.6,324.8 325.0,332.0 325.3,324.1 325.6,349.8 326.0,320.1 326.3,324.1 326.7,326.4 327.0,338.5 327.3,338.7 327.7,333.1 328.0,344.9 328.4,331.3 328.7,331.0 329.0,331.6 329.4,311.2 329.7,335.5 330.1,322.2 330.4,335.4 330.7,340.5 331.1,329.3 331.4,324.4 331.8,337.1 332.1,320.9 332.4,322.6 332.8,310.1 333.1,307.5 333.5,318.5 333.8,307.5 334.1,336.9 334.5,333.6 334.8,331.5 335.2,329.4 335.5,314.9 335.8,321.1 336.2,347.3 336.5,322.0 336.9,310.4 337.2,335.0 337.5,320.3 337.9,324.7 338.2,346.5 338.6,324.5 338.9,339.8 339.2,344.3 339.6,317.9 339.9,316.2 340.3,324.4 340.6,341.7 340.9,344.6 341.3,331.5 341.6,348.1 342.0,343.5 342.3,344.7 342.6,323.9 343.0,337.6 343.3,344.3 343.7,333.5 344.0,342.4 344.3,331.4 344.7,345.3 345.0,324.9 345.4,330.4 345.7,325.5 346.0,326.7 346.4,322.1 346.7,325.1 347.1,323.3 347.4,329.8 347.7,335.0 348.1,335.1 348.4,329.9 348.8,341.6 349.1,349.8 349.4,322.5 349.8,353.8 350.1,338.7 350.5,319.2 350.8,327.7 351.1,332.7 351.5,335.1 351.8,326.1 352.2,334.7 352.5,345.9 352.8,327.7 353.2,357.6 353.5,338.6 353.9,323.6 354.2,333.1 354.5,327.2 354.9,325.3 355.2,316.0 355.6,329.5 355.9,316.5 356.3,339.2 356.6,338.3 356.9,326.9 357.3,327.4 357.6,313.3 358.0,331.8 358.3,333.2 358.6,331.8 359.0,317.2 359.3,322.3 359.7,325.0 360.0,326.5 360.3,321.4 360.7,341.8 361.0,327.2 361.4,333.0 361.7,337.3 362.0,339.2 362.4,342.1 362.7,324.1 363.1,349.0 363.4,345.2 363.7,332.6 364.1,329.8 364.4,339.4 364.8,335.4 365.1,337.8 365.4,339.8 365.8,348.0 366.1,343.1 366.5,338.9 366.8,338.4 367.1,337.4 367.5,311.1 367.8,328.9 368.2,346.6 368.5,341.2 368.8,326.0 369.2,348.5 369.5,331.6 369.9,333.7 370.2,349.2 370.5,349.9 370.9,352.4 371.2,343.8 371.6,351.2 371.9,341.0 372.2,332.7 372.6,352.2 372.9,357.8 373.3,357.8 373.6,342.2 373.9,345.6 374.3,339.6 374.6,341.9 375.0,351.1 375.3,348.3 375.6,338.7 376.0,349.5 376.3,342.4 376.7,343.4 377.0,348.0 377.3,346.6 377.7,331.4 378.0,336.1 378.4,341.0 378.7,343.7 379.0,328.4 379.4,329.9 379.7,328.3 380.1,331.2 380.4,342.1 380.7,320.1 381.1,342.1 381.4,322.9 381.8,336.5 382.1,339.4 382.4,335.6 382.8,350.8 383.1,321.5 383.5,311.5 383.8,339.1 384.1,339.7 384.5,332.5 384.8,340.7 385.2,319.2 385.5,339.0 385.8,322.4 386.2,324.4 386.5,323.9 386.9,339.4 387.2,326.5 387.5,336.7 387.9,332.2 388.2,323.0 388.6,313.7 388.9,321.5 389.2,325.0 389.6,328.8 389.9,317.1 390.3,322.9 390.6,324.2 390.9,314.0 391.3,330.2 391.6,308.3 392.0,334.4 392.3,319.9 392.6,312.5 393.0,331.4 393.3,335.3 393.7,339.3 394.0,324.8 394.4,336.1 394.7,355.9 395.0,352.9 395.4,353.3 395.7,358.0 396.1,347.6 396.4,346.9 396.7,335.9 397.1,330.6 397.4,331.6 397.8,326.1 398.1,338.1 398.4,350.0 398.8,329.8 399.1,349.3 399.5,323.8 399.8,327.9 400.1,317.4 400.5,343.8 400.8,322.2 401.2,327.0 401.5,325.0 401.8,329.0 402.2,337.8 402.5,329.2 402.9,323.3 403.2,324.4 403.5,344.6 403.9,343.5 404.2,338.5 404.6,334.2 404.9,339.8 405.2,330.5 405.6,330.0 405.9,339.3 406.3,346.2 406.6,321.3 406.9,337.0 407.3,338.2 407.6,353.9 408.0,348.8 408.3,340.6 408.6,341.9 409.0,352.9 409.3,344.2 409.7,331.3 410.0,331.4 410.3,351.1 410.7,317.3 411.0,316.3 411.4,347.2 411.7,335.7 412.0,355.6 412.4,315.6 412.7,328.7 413.1,351.6 413.4,335.2 413.7,317.2 414.1,340.1 414.4,323.1 414.8,332.0 415.1,329.8 415.4,342.3 415.8,333.6 416.1,329.4 416.5,339.5 416.8,333.4 417.1,333.8 417.5,347.5 417.8,330.5 418.2,343.6 418.5,333.3 418.8,326.0 419.2,321.4 419.5,324.4 419.9,326.0 420.2,329.2 420.5,322.7 420.9,337.1 421.2,318.7 421.6,322.5 421.9,328.6 422.2,323.6 422.6,318.1 422.9,326.9 423.3,341.1 423.6,330.3 423.9,342.5 424.3,331.3 424.6,345.1 425.0,329.6 425.3,341.7 425.6,335.1 426.0,330.4 426.3,307.6 426.7,340.1 427.0,346.6 427.3,346.7 427.7,355.7 428.0,335.9 428.4,344.3 428.7,333.4 429.0,328.8 429.4,330.0 429.7,349.5 430.1,347.4 430.4,347.8 430.7,327.0 431.1,337.8 431.4,354.3 431.8,354.9 432.1,352.6 432.4,337.8 432.8,338.0 433.1,338.5 433.5,342.3 433.8,346.6 434.2,345.5 434.5,327.5 434.8,345.4 435.2,342.7 435.5,330.6 435.9,330.1 436.2,315.6 436.5,354.8 436.9,340.2 437.2,349.5 437.6,333.8 437.9,331.6 438.2,330.2 438.6,330.9 438.9,329.4 439.3,331.3 439.6,326.7 439.9,309.7 440.3,326.4 440.6,348.7 441.0,329.9 441.3,322.6 441.6,324.1 442.0,321.4 442.3,339.3 442.7,312.1 443.0,316.6 443.3,322.2 443.7,324.5 444.0,325.0 444.4,343.8 444.7,327.5 445.0,330.3 445.4,351.1 445.7,328.7 446.1,335.6 446.4,331.1 446.7,321.9 447.1,330.6 447.4,341.2 447.8,329.3 448.1,330.0 448.4,315.6 448.8,332.1 449.1,344.1 449.5,339.2 449.8,331.4 450.1,343.9 450.5,320.2 450.8,323.4 451.2,320.5 451.5,326.4 451.8,351.6 452.2,333.0 452.5,340.0 452.9,321.1 453.2,344.2 453.5,330.2 453.9,326.3 454.2,331.5 454.6,322.4 454.9,320.5 455.2,293.1 455.6,314.4 455.9,300.7 456.3,301.5 456.6,332.6 456.9,309.0 457.3,316.6 457.6,317.1 458.0,301.6 458.3,307.3 458.6,308.4 459.0,317.1 459.3,314.5 459.7,326.0 460.0,327.3 460.3,318.7 460.7,325.6 461.0,309.3 461.4,303.4 461.7,316.5 462.0,321.2 462.4,324.7 462.7,310.3 463.1,318.2 463.4,307.1 463.7,309.3 464.1,323.6 464.4,321.2 464.8,345.4 465.1,331.8 465.4,333.0 465.8,336.8 466.1,329.9 466.5,309.3 466.8,326.9 467.1,339.6 467.5,313.0 467.8,331.9 468.2,320.3 468.5,335.5 468.8,319.9 469.2,339.0 469.5,327.5 469.9,344.2 470.2,324.1 470.5,357.1 470.9,335.7 471.2,328.7 471.6,338.5 471.9,336.0 472.3,326.4 472.6,331.8 472.9,324.6 473.3,331.8 473.6,335.0 474.0,342.5 474.3,337.6 474.6,351.5 475.0,357.7 475.3,338.6 475.7,339.6 476.0,345.7 476.3,345.9 476.7,344.1 477.0,331.1 477.4,345.7 477.7,350.5 478.0,335.7 478.4,341.5 478.7,342.9 479.1,343.4 479.4,343.1 479.7,358.0 480.1,329.8 480.4,331.5 480.8,334.9 481.1,347.1 481.4,323.2 481.8,327.9 482.1,320.8 482.5,328.5 482.8,345.4 483.1,341.5 483.5,339.4 483.8,346.6 484.2,334.2 484.5,336.8 484.8,344.9 485.2,333.4 485.5,343.5 485.9,345.1 486.2,342.3 486.5,353.0 486.9,340.3 487.2,339.0 487.6,353.2 487.9,342.0 488.2,343.2 488.6,332.0 488.9,337.9 489.3,342.9 489.6,328.5 489.9,337.2 490.3,328.9 490.6,316.2 491.0,340.1 491.3,324.8"/>
<text x="208.5" y="452.8" text-anchor="end">13500</text>
<text x="208.5" y="430.9" text-anchor="end">14000</text>
<text x="208.5" y="409.1" text-anchor="end">14500</text>
<text x="208.5" y="387.3" text-anchor="end">15000</text>
<text x="208.5" y="365.5" text-anchor="end">15500</text>
<text x="208.5" y="343.7" text-anchor="end">16000</text>
<text x="208.5" y="321.9" text-anchor="end">16500</text>
<text x="208.5" y="300.1" text-anchor="end">17000</text>
<text x="208.5" y="278.3" text-anchor="end">17500</text>
<text transform="translate(223.0 457.2) rotate(-90)" text-anchor="end" font-size="9.9" stroke-width="0.12">0</text>
<text transform="translate(236.6 457.2) rotate(-90)" text-anchor="end" font-size="9.9" stroke-width="0.12">5</text>
<text transform="translate(250.2 457.2) rotate(-90)" text-anchor="end" font-size="9.9" stroke-width="0.12">10</text>
<text transform="translate(263.8 457.2) rotate(-90)" text-anchor="end" font-size="9.9" stroke-width="0.12">15</text>
<text transform="translate(277.4 457.2) rotate(-90)" text-anchor="end" font-size="9.9" stroke-width="0.12">20</text>
<text transform="translate(291.0 457.2) rotate(-90)" text-anchor="end" font-size="9.9" stroke-width="0.12">25</text>
<text transform="translate(304.6 457.2) rotate(-90)" text-anchor="end" font-size="9.9" stroke-width="0.12">30</text>
<text transform="translate(318.2 457.2) rotate(-90)" text-anchor="end" font-size="9.9" stroke-width="0.12">35</text>
<text transform="translate(331.8 457.2) rotate(-90)" text-anchor="end" font-size="9.9" stroke-width="0.12">40</text>
<text transform="translate(345.4 457.2) rotate(-90)" text-anchor="end" font-size="9.9" stroke-width="0.12">45</text>
<text transform="translate(358.9 457.2) rotate(-90)" text-anchor="end" font-size="9.9" stroke-width="0.12">50</text>
<text transform="translate(372.5 457.2) rotate(-90)" text-anchor="end" font-size="9.9" stroke-width="0.12">55</text>
<text transform="translate(386.1 457.2) rotate(-90)" text-anchor="end" font-size="9.9" stroke-width="0.12">60</text>
<text transform="translate(399.7 457.2) rotate(-90)" text-anchor="end" font-size="9.9" stroke-width="0.12">65</text>
<text transform="translate(413.3 457.2) rotate(-90)" text-anchor="end" font-size="9.9" stroke-width="0.12">70</text>
<text transform="translate(426.9 457.2) rotate(-90)" text-anchor="end" font-size="9.9" stroke-width="0.12">75</text>
<text transform="translate(440.5 457.2) rotate(-90)" text-anchor="end" font-size="9.9" stroke-width="0.12">80</text>
<text transform="translate(454.1 457.2) rotate(-90)" text-anchor="end" font-size="9.9" stroke-width="0.12">85</text>
<text transform="translate(467.7 457.2) rotate(-90)" text-anchor="end" font-size="9.9" stroke-width="0.12">90</text>
<text transform="translate(481.3 457.2) rotate(-90)" text-anchor="end" font-size="9.9" stroke-width="0.12">95</text>
<text transform="translate(494.8 457.2) rotate(-90)" text-anchor="end" font-size="9.9" stroke-width="0.12">100</text>
<text x="355.9" y="488.4" text-anchor="middle" font-size="10" textLength="41.2" lengthAdjust="spacingAndGlyphs">Time (ns)</text>
<text transform="translate(173.7 361.8) rotate(-90)" text-anchor="middle" font-size="10" textLength="128" lengthAdjust="spacingAndGlyphs">Surface Accessable Area (Å)</text>
<text x="146.6" y="279.5" font-size="11">(c)</text>
<path d="M240.1 514.3H260.1" stroke="#ED7D31" stroke-width="1.3"/>
<text x="262.7" y="518.0" font-size="10.4">Lip42_Water</text>
<path d="M329.2 514.3H349.2" stroke="#A5A5A5" stroke-width="1.3"/>
<text x="351.8" y="518.0" font-size="10.4">V171S_Water</text>
<path d="M240.1 534.3H260.1" stroke="#FFC000" stroke-width="1.3"/>
<text x="262.7" y="538.0" font-size="10.4">Lip42_Met</text>
<path d="M329.2 534.3H349.2" stroke="#5B9BD5" stroke-width="1.3"/>
<text x="351.8" y="538.0" font-size="10.4">V171S_Met</text>
</svg>
</body></html>
